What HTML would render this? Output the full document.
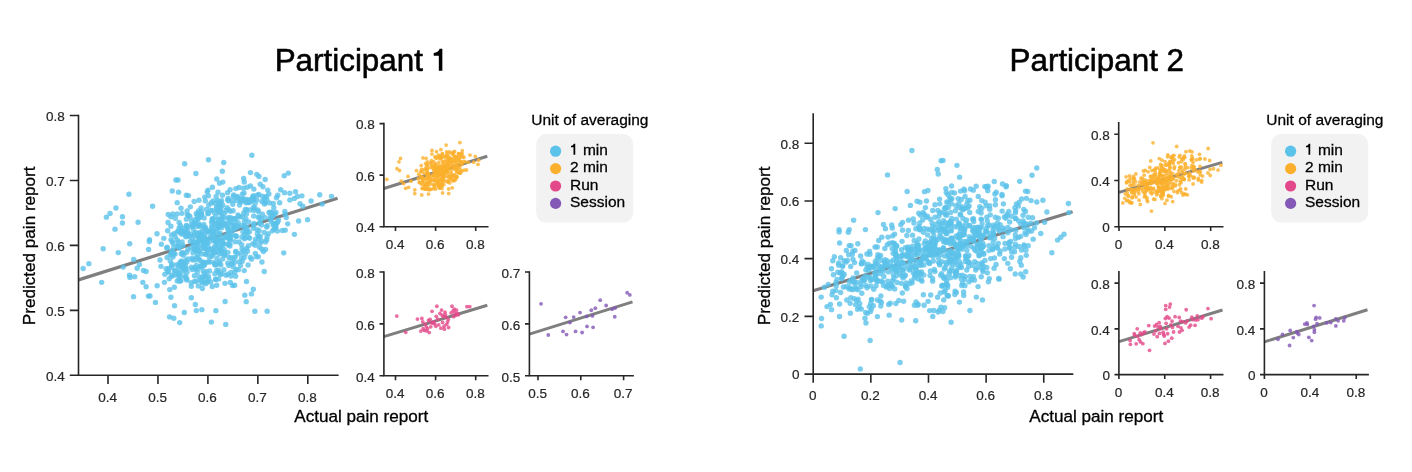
<!DOCTYPE html>
<html><head><meta charset="utf-8"><title>Participants</title>
<style>html,body{margin:0;padding:0;background:#fff}body{width:1412px;height:472px;overflow:hidden}svg{will-change:transform;opacity:.999}</style>
</head><body>
<svg width="1412" height="472" viewBox="0 0 1412 472" style="font-family:'Liberation Sans',sans-serif;display:block">
<rect width="1412" height="472" fill="#fff"/>
<text x="274.65" y="70.8" font-size="31.4" fill="#000" stroke="#000" stroke-width="0.55">Participant</text>
<path d="M442.34 48.82V70.8H438.83V55.79H433.71V53Q438.32 52.75 439.64 48.82Z" fill="#000"/>
<text x="1096.8" y="70.8" text-anchor="middle" font-size="31.4" fill="#000" stroke="#000" stroke-width="0.55">Participant 2</text>
<line x1="78.5" y1="279.9" x2="337.6" y2="198.2" stroke="#7f7f7f" stroke-width="3.2"/>
<g fill="#5bc2ea" fill-opacity="0.8"><circle cx="232" cy="225.35" r="2.7"/><circle cx="220.43" cy="274.49" r="2.7"/><circle cx="185.84" cy="260.31" r="2.7"/><circle cx="232.81" cy="204.31" r="2.7"/><circle cx="235.8" cy="235.83" r="2.7"/><circle cx="174.5" cy="271.08" r="2.7"/><circle cx="271.28" cy="221.87" r="2.7"/><circle cx="215.65" cy="216.38" r="2.7"/><circle cx="244.54" cy="225.24" r="2.7"/><circle cx="275.5" cy="227.28" r="2.7"/><circle cx="215.81" cy="240.04" r="2.7"/><circle cx="180.99" cy="280.5" r="2.7"/><circle cx="201.55" cy="254.01" r="2.7"/><circle cx="223.23" cy="243.4" r="2.7"/><circle cx="186.67" cy="252.27" r="2.7"/><circle cx="224.9" cy="254.98" r="2.7"/><circle cx="199.44" cy="251.2" r="2.7"/><circle cx="249.33" cy="231.87" r="2.7"/><circle cx="173.1" cy="243.62" r="2.7"/><circle cx="239.43" cy="261.76" r="2.7"/><circle cx="258.79" cy="194.35" r="2.7"/><circle cx="213.89" cy="251.93" r="2.7"/><circle cx="210.49" cy="210.34" r="2.7"/><circle cx="172.79" cy="275.13" r="2.7"/><circle cx="197.1" cy="215.66" r="2.7"/><circle cx="197.83" cy="237.12" r="2.7"/><circle cx="252.58" cy="196.73" r="2.7"/><circle cx="189.36" cy="236.18" r="2.7"/><circle cx="222.35" cy="244.32" r="2.7"/><circle cx="178.53" cy="272.9" r="2.7"/><circle cx="202.7" cy="241.56" r="2.7"/><circle cx="200.55" cy="217.08" r="2.7"/><circle cx="192.15" cy="258.18" r="2.7"/><circle cx="228.87" cy="209.61" r="2.7"/><circle cx="191.28" cy="267.23" r="2.7"/><circle cx="259.14" cy="230.69" r="2.7"/><circle cx="219.45" cy="233.92" r="2.7"/><circle cx="174.15" cy="233.61" r="2.7"/><circle cx="237.91" cy="253.92" r="2.7"/><circle cx="260.13" cy="222.34" r="2.7"/><circle cx="173.93" cy="247.5" r="2.7"/><circle cx="227.92" cy="274.18" r="2.7"/><circle cx="259.17" cy="217.63" r="2.7"/><circle cx="181.63" cy="260.91" r="2.7"/><circle cx="196.79" cy="242.44" r="2.7"/><circle cx="278.46" cy="220.29" r="2.7"/><circle cx="243.47" cy="199.27" r="2.7"/><circle cx="218.78" cy="202.01" r="2.7"/><circle cx="171.27" cy="252.87" r="2.7"/><circle cx="185.33" cy="265.1" r="2.7"/><circle cx="229.05" cy="231.16" r="2.7"/><circle cx="234.83" cy="262.3" r="2.7"/><circle cx="183.69" cy="255.25" r="2.7"/><circle cx="204.26" cy="263.55" r="2.7"/><circle cx="193.44" cy="229.35" r="2.7"/><circle cx="180.27" cy="261.85" r="2.7"/><circle cx="222.87" cy="243.46" r="2.7"/><circle cx="204.29" cy="237.96" r="2.7"/><circle cx="237.89" cy="197.5" r="2.7"/><circle cx="242.52" cy="198.9" r="2.7"/><circle cx="235.93" cy="218.85" r="2.7"/><circle cx="261.62" cy="241.04" r="2.7"/><circle cx="226.96" cy="237.55" r="2.7"/><circle cx="222.14" cy="273.67" r="2.7"/><circle cx="211.11" cy="235.19" r="2.7"/><circle cx="249.72" cy="238.27" r="2.7"/><circle cx="203" cy="243.44" r="2.7"/><circle cx="219.14" cy="253.97" r="2.7"/><circle cx="176.61" cy="264.6" r="2.7"/><circle cx="193.01" cy="252.76" r="2.7"/><circle cx="217.36" cy="243.5" r="2.7"/><circle cx="235.1" cy="256.94" r="2.7"/><circle cx="234.39" cy="228.19" r="2.7"/><circle cx="231.85" cy="262.01" r="2.7"/><circle cx="239.55" cy="204.99" r="2.7"/><circle cx="227.65" cy="237.44" r="2.7"/><circle cx="218.44" cy="227.55" r="2.7"/><circle cx="216.56" cy="227.8" r="2.7"/><circle cx="177.86" cy="245.73" r="2.7"/><circle cx="245.15" cy="228.21" r="2.7"/><circle cx="171.63" cy="253.24" r="2.7"/><circle cx="207.96" cy="230.59" r="2.7"/><circle cx="192.49" cy="238.74" r="2.7"/><circle cx="202.04" cy="230.89" r="2.7"/><circle cx="218.82" cy="247.29" r="2.7"/><circle cx="262.35" cy="196.21" r="2.7"/><circle cx="239.98" cy="216.9" r="2.7"/><circle cx="248.68" cy="221.9" r="2.7"/><circle cx="180.02" cy="271.27" r="2.7"/><circle cx="247.35" cy="230.91" r="2.7"/><circle cx="274.15" cy="229.36" r="2.7"/><circle cx="272.02" cy="212.57" r="2.7"/><circle cx="241.6" cy="257.84" r="2.7"/><circle cx="274.55" cy="214.06" r="2.7"/><circle cx="175.09" cy="253.89" r="2.7"/><circle cx="203.49" cy="264.4" r="2.7"/><circle cx="211.7" cy="228.54" r="2.7"/><circle cx="234.07" cy="258.03" r="2.7"/><circle cx="214.47" cy="232.54" r="2.7"/><circle cx="194.06" cy="249" r="2.7"/><circle cx="242.46" cy="216.58" r="2.7"/><circle cx="276.08" cy="224.07" r="2.7"/><circle cx="211.61" cy="256.55" r="2.7"/><circle cx="233.74" cy="194.91" r="2.7"/><circle cx="228.98" cy="257.4" r="2.7"/><circle cx="245.98" cy="202.81" r="2.7"/><circle cx="191.08" cy="282.77" r="2.7"/><circle cx="201.29" cy="211.22" r="2.7"/><circle cx="259.39" cy="223.24" r="2.7"/><circle cx="218.27" cy="223.32" r="2.7"/><circle cx="228.37" cy="244.9" r="2.7"/><circle cx="234.65" cy="272.28" r="2.7"/><circle cx="182.27" cy="232.68" r="2.7"/><circle cx="186.67" cy="278.9" r="2.7"/><circle cx="214.22" cy="262.57" r="2.7"/><circle cx="179.71" cy="231.17" r="2.7"/><circle cx="264.83" cy="197.73" r="2.7"/><circle cx="205.43" cy="241.01" r="2.7"/><circle cx="236.49" cy="236.4" r="2.7"/><circle cx="230.06" cy="229.75" r="2.7"/><circle cx="245.81" cy="199.14" r="2.7"/><circle cx="199.21" cy="232.87" r="2.7"/><circle cx="185.95" cy="276.45" r="2.7"/><circle cx="228.81" cy="265.51" r="2.7"/><circle cx="220.65" cy="248.58" r="2.7"/><circle cx="172.26" cy="241.65" r="2.7"/><circle cx="168.59" cy="268.34" r="2.7"/><circle cx="228.19" cy="218.28" r="2.7"/><circle cx="273.62" cy="223.43" r="2.7"/><circle cx="260.26" cy="242.95" r="2.7"/><circle cx="233.89" cy="227.33" r="2.7"/><circle cx="222.55" cy="244.75" r="2.7"/><circle cx="171.36" cy="276.49" r="2.7"/><circle cx="229.88" cy="245.96" r="2.7"/><circle cx="221.07" cy="221.83" r="2.7"/><circle cx="234.55" cy="228.94" r="2.7"/><circle cx="253.8" cy="223.39" r="2.7"/><circle cx="207.04" cy="281.66" r="2.7"/><circle cx="196.81" cy="250.58" r="2.7"/><circle cx="213.58" cy="233.57" r="2.7"/><circle cx="230.34" cy="236.41" r="2.7"/><circle cx="205.8" cy="283.78" r="2.7"/><circle cx="181.55" cy="262.77" r="2.7"/><circle cx="248.67" cy="237.37" r="2.7"/><circle cx="275.95" cy="212.41" r="2.7"/><circle cx="265.56" cy="249.43" r="2.7"/><circle cx="204.96" cy="234.06" r="2.7"/><circle cx="166.77" cy="247.9" r="2.7"/><circle cx="197.62" cy="219.78" r="2.7"/><circle cx="197.08" cy="243.17" r="2.7"/><circle cx="222.65" cy="259" r="2.7"/><circle cx="219.53" cy="248.83" r="2.7"/><circle cx="167.63" cy="271.48" r="2.7"/><circle cx="194.16" cy="224.01" r="2.7"/><circle cx="178.81" cy="279.56" r="2.7"/><circle cx="208.68" cy="261.64" r="2.7"/><circle cx="238.68" cy="216.16" r="2.7"/><circle cx="204.34" cy="281.6" r="2.7"/><circle cx="193.1" cy="243.48" r="2.7"/><circle cx="187.58" cy="234.5" r="2.7"/><circle cx="246.74" cy="232.42" r="2.7"/><circle cx="244.34" cy="238.76" r="2.7"/><circle cx="258.61" cy="238.32" r="2.7"/><circle cx="213.91" cy="235.35" r="2.7"/><circle cx="229.24" cy="217.52" r="2.7"/><circle cx="246.68" cy="209.77" r="2.7"/><circle cx="203.11" cy="245.62" r="2.7"/><circle cx="266.72" cy="239.71" r="2.7"/><circle cx="248.07" cy="264.97" r="2.7"/><circle cx="271.6" cy="217.96" r="2.7"/><circle cx="200.12" cy="279.87" r="2.7"/><circle cx="206.9" cy="243.42" r="2.7"/><circle cx="207.12" cy="281.92" r="2.7"/><circle cx="256.12" cy="256.67" r="2.7"/><circle cx="275.74" cy="227.52" r="2.7"/><circle cx="245.84" cy="218.72" r="2.7"/><circle cx="264.46" cy="204" r="2.7"/><circle cx="220.75" cy="202.44" r="2.7"/><circle cx="242.24" cy="261.35" r="2.7"/><circle cx="241.19" cy="252.95" r="2.7"/><circle cx="198.58" cy="218.16" r="2.7"/><circle cx="245.35" cy="237.75" r="2.7"/><circle cx="242.3" cy="194.25" r="2.7"/><circle cx="182.88" cy="245.59" r="2.7"/><circle cx="171.59" cy="267.78" r="2.7"/><circle cx="204.42" cy="265.27" r="2.7"/><circle cx="247.42" cy="232.71" r="2.7"/><circle cx="183.34" cy="268.61" r="2.7"/><circle cx="260.29" cy="236.53" r="2.7"/><circle cx="242.12" cy="248.67" r="2.7"/><circle cx="221.05" cy="251.13" r="2.7"/><circle cx="180.5" cy="275.8" r="2.7"/><circle cx="196.5" cy="232.69" r="2.7"/><circle cx="246.21" cy="231.17" r="2.7"/><circle cx="182.43" cy="252.96" r="2.7"/><circle cx="180.58" cy="265.76" r="2.7"/><circle cx="216.61" cy="208.37" r="2.7"/><circle cx="197.48" cy="248.29" r="2.7"/><circle cx="227.82" cy="263.01" r="2.7"/><circle cx="190.34" cy="241.35" r="2.7"/><circle cx="269.55" cy="202.88" r="2.7"/><circle cx="205.8" cy="229.71" r="2.7"/><circle cx="230.47" cy="238.87" r="2.7"/><circle cx="249.85" cy="209.93" r="2.7"/><circle cx="223.94" cy="224.72" r="2.7"/><circle cx="201.62" cy="281.56" r="2.7"/><circle cx="249.11" cy="202.54" r="2.7"/><circle cx="212.35" cy="220.82" r="2.7"/><circle cx="182" cy="234.13" r="2.7"/><circle cx="264.08" cy="201.34" r="2.7"/><circle cx="170.98" cy="239.86" r="2.7"/><circle cx="221.92" cy="253.53" r="2.7"/><circle cx="200.95" cy="239.55" r="2.7"/><circle cx="268.5" cy="233.6" r="2.7"/><circle cx="212.56" cy="210.42" r="2.7"/><circle cx="191.35" cy="247.88" r="2.7"/><circle cx="219.52" cy="226.07" r="2.7"/><circle cx="230.44" cy="235.28" r="2.7"/><circle cx="186.7" cy="225.49" r="2.7"/><circle cx="244.45" cy="221.29" r="2.7"/><circle cx="258.3" cy="256.78" r="2.7"/><circle cx="249.19" cy="199.74" r="2.7"/><circle cx="208.15" cy="213.48" r="2.7"/><circle cx="253.72" cy="216.11" r="2.7"/><circle cx="179.88" cy="281.23" r="2.7"/><circle cx="175.61" cy="270.28" r="2.7"/><circle cx="213.02" cy="254.59" r="2.7"/><circle cx="236.09" cy="227.54" r="2.7"/><circle cx="263.44" cy="251.49" r="2.7"/><circle cx="186.19" cy="268.28" r="2.7"/><circle cx="217.46" cy="251.56" r="2.7"/><circle cx="221.93" cy="221.22" r="2.7"/><circle cx="222.78" cy="240.11" r="2.7"/><circle cx="257.07" cy="229.79" r="2.7"/><circle cx="187.45" cy="232.2" r="2.7"/><circle cx="236.02" cy="269.51" r="2.7"/><circle cx="195.66" cy="243.32" r="2.7"/><circle cx="199.14" cy="237.48" r="2.7"/><circle cx="211.74" cy="226.28" r="2.7"/><circle cx="240.15" cy="199.23" r="2.7"/><circle cx="167.23" cy="247.18" r="2.7"/><circle cx="245.32" cy="209.57" r="2.7"/><circle cx="177.24" cy="239.92" r="2.7"/><circle cx="215.07" cy="264.05" r="2.7"/><circle cx="227.4" cy="226.96" r="2.7"/><circle cx="221.72" cy="227.7" r="2.7"/><circle cx="261.34" cy="218.72" r="2.7"/><circle cx="270.56" cy="215.9" r="2.7"/><circle cx="204.43" cy="245.24" r="2.7"/><circle cx="206.42" cy="271.81" r="2.7"/><circle cx="198.12" cy="268.82" r="2.7"/><circle cx="261.55" cy="225.03" r="2.7"/><circle cx="188.22" cy="258.9" r="2.7"/><circle cx="199.06" cy="259.09" r="2.7"/><circle cx="201.65" cy="213.85" r="2.7"/><circle cx="199.27" cy="225.62" r="2.7"/><circle cx="231.23" cy="257.65" r="2.7"/><circle cx="221.64" cy="240.57" r="2.7"/><circle cx="253.37" cy="207.38" r="2.7"/><circle cx="170.28" cy="254.93" r="2.7"/><circle cx="166.12" cy="268.69" r="2.7"/><circle cx="178.25" cy="274.57" r="2.7"/><circle cx="270.45" cy="219.03" r="2.7"/><circle cx="235.66" cy="251.81" r="2.7"/><circle cx="179.28" cy="248.29" r="2.7"/><circle cx="253.38" cy="228.29" r="2.7"/><circle cx="192.58" cy="259.97" r="2.7"/><circle cx="243.71" cy="212.96" r="2.7"/><circle cx="217.74" cy="210.91" r="2.7"/><circle cx="221.58" cy="200.64" r="2.7"/><circle cx="220.99" cy="212.51" r="2.7"/><circle cx="195.63" cy="223.12" r="2.7"/><circle cx="185.35" cy="269.25" r="2.7"/><circle cx="192.69" cy="226.29" r="2.7"/><circle cx="233.3" cy="196.28" r="2.7"/><circle cx="227.76" cy="200" r="2.7"/><circle cx="181.55" cy="231.08" r="2.7"/><circle cx="219.18" cy="261.78" r="2.7"/><circle cx="255.12" cy="203.41" r="2.7"/><circle cx="245.24" cy="253.99" r="2.7"/><circle cx="170.27" cy="261.03" r="2.7"/><circle cx="257.25" cy="233.74" r="2.7"/><circle cx="220.72" cy="212.04" r="2.7"/><circle cx="200.77" cy="265.92" r="2.7"/><circle cx="266.73" cy="226.99" r="2.7"/><circle cx="258.4" cy="216.93" r="2.7"/><circle cx="184.1" cy="271.54" r="2.7"/><circle cx="185.35" cy="231.95" r="2.7"/><circle cx="227.95" cy="252.37" r="2.7"/><circle cx="215.55" cy="279.23" r="2.7"/><circle cx="227.95" cy="229.29" r="2.7"/><circle cx="195.41" cy="269.01" r="2.7"/><circle cx="218.77" cy="212.77" r="2.7"/><circle cx="210.6" cy="231.49" r="2.7"/><circle cx="240.81" cy="201.5" r="2.7"/><circle cx="201.6" cy="234.38" r="2.7"/><circle cx="199.61" cy="240.59" r="2.7"/><circle cx="226.99" cy="223.36" r="2.7"/><circle cx="196.46" cy="281.19" r="2.7"/><circle cx="244.92" cy="227.06" r="2.7"/><circle cx="248.17" cy="201.93" r="2.7"/><circle cx="227.77" cy="233.95" r="2.7"/><circle cx="204.28" cy="273.57" r="2.7"/><circle cx="224.55" cy="213.34" r="2.7"/><circle cx="240.5" cy="265.43" r="2.7"/><circle cx="244.14" cy="257.85" r="2.7"/><circle cx="168.49" cy="272.13" r="2.7"/><circle cx="214.52" cy="203.13" r="2.7"/><circle cx="218.77" cy="270.49" r="2.7"/><circle cx="247.42" cy="251.31" r="2.7"/><circle cx="218.22" cy="228.11" r="2.7"/><circle cx="222.27" cy="216.61" r="2.7"/><circle cx="217.1" cy="223.63" r="2.7"/><circle cx="205.75" cy="276.46" r="2.7"/><circle cx="209.94" cy="249.76" r="2.7"/><circle cx="252.68" cy="243.83" r="2.7"/><circle cx="241.92" cy="237" r="2.7"/><circle cx="254.62" cy="207.97" r="2.7"/><circle cx="244.61" cy="234.48" r="2.7"/><circle cx="240.64" cy="201.8" r="2.7"/><circle cx="179.01" cy="228.11" r="2.7"/><circle cx="237.99" cy="214.9" r="2.7"/><circle cx="216.32" cy="230.36" r="2.7"/><circle cx="210.57" cy="248.98" r="2.7"/><circle cx="194.62" cy="267.47" r="2.7"/><circle cx="224.28" cy="252.21" r="2.7"/><circle cx="171.92" cy="265.37" r="2.7"/><circle cx="231.92" cy="264.24" r="2.7"/><circle cx="199.12" cy="276.59" r="2.7"/><circle cx="257.74" cy="210.07" r="2.7"/><circle cx="277.38" cy="230.96" r="2.7"/><circle cx="253.68" cy="199.72" r="2.7"/><circle cx="200.28" cy="260.63" r="2.7"/><circle cx="258.52" cy="211.5" r="2.7"/><circle cx="246.4" cy="214.07" r="2.7"/><circle cx="250.31" cy="257.34" r="2.7"/><circle cx="276.69" cy="223.19" r="2.7"/><circle cx="212.71" cy="231.22" r="2.7"/><circle cx="214.43" cy="246.77" r="2.7"/><circle cx="205.41" cy="247.71" r="2.7"/><circle cx="265.4" cy="202.92" r="2.7"/><circle cx="229.26" cy="238.48" r="2.7"/><circle cx="272.38" cy="230.86" r="2.7"/><circle cx="241.72" cy="244.66" r="2.7"/><circle cx="235.56" cy="235.84" r="2.7"/><circle cx="220.5" cy="208.2" r="2.7"/><circle cx="248.17" cy="202.61" r="2.7"/><circle cx="187.13" cy="271.95" r="2.7"/><circle cx="265.2" cy="217.66" r="2.7"/><circle cx="223.93" cy="269.76" r="2.7"/><circle cx="231.86" cy="232.47" r="2.7"/><circle cx="197.23" cy="272.11" r="2.7"/><circle cx="182.12" cy="242" r="2.7"/><circle cx="258.44" cy="236.36" r="2.7"/><circle cx="195.5" cy="259.94" r="2.7"/><circle cx="238.08" cy="222.58" r="2.7"/><circle cx="203.87" cy="224.55" r="2.7"/><circle cx="220" cy="206.19" r="2.7"/><circle cx="222.66" cy="205.01" r="2.7"/><circle cx="247.06" cy="227.4" r="2.7"/><circle cx="238.27" cy="226.73" r="2.7"/><circle cx="253.6" cy="197.78" r="2.7"/><circle cx="230.35" cy="239.84" r="2.7"/><circle cx="171.73" cy="263.93" r="2.7"/><circle cx="253.81" cy="225.47" r="2.7"/><circle cx="213.74" cy="240.78" r="2.7"/><circle cx="246.66" cy="248.38" r="2.7"/><circle cx="213.26" cy="219.41" r="2.7"/><circle cx="275.16" cy="225.9" r="2.7"/><circle cx="255.2" cy="242.15" r="2.7"/><circle cx="265.55" cy="241.9" r="2.7"/><circle cx="216.28" cy="244.64" r="2.7"/><circle cx="203.39" cy="277.07" r="2.7"/><circle cx="226.71" cy="225.71" r="2.7"/><circle cx="253.47" cy="199.35" r="2.7"/><circle cx="196.73" cy="257.16" r="2.7"/><circle cx="198.63" cy="241.12" r="2.7"/><circle cx="206.23" cy="262.56" r="2.7"/><circle cx="270.23" cy="212.16" r="2.7"/><circle cx="255.24" cy="245.33" r="2.7"/><circle cx="179.42" cy="264.28" r="2.7"/><circle cx="210.99" cy="202.9" r="2.7"/><circle cx="206.32" cy="209.45" r="2.7"/><circle cx="253.79" cy="210.6" r="2.7"/><circle cx="208.67" cy="279.3" r="2.7"/><circle cx="186.19" cy="236.12" r="2.7"/><circle cx="173.46" cy="253.91" r="2.7"/><circle cx="186.55" cy="231.83" r="2.7"/><circle cx="193.97" cy="241.65" r="2.7"/><circle cx="214.28" cy="212.78" r="2.7"/><circle cx="204.13" cy="248.64" r="2.7"/><circle cx="210.12" cy="231.6" r="2.7"/><circle cx="234.91" cy="241.78" r="2.7"/><circle cx="241.74" cy="225.39" r="2.7"/><circle cx="186.14" cy="226.02" r="2.7"/><circle cx="218.82" cy="238.73" r="2.7"/><circle cx="229.85" cy="244.22" r="2.7"/><circle cx="207.67" cy="252.88" r="2.7"/><circle cx="202.71" cy="241.83" r="2.7"/><circle cx="219.08" cy="219.55" r="2.7"/><circle cx="191.55" cy="224.72" r="2.7"/><circle cx="194.59" cy="222.65" r="2.7"/><circle cx="203.04" cy="262.51" r="2.7"/><circle cx="242.94" cy="231.86" r="2.7"/><circle cx="198.5" cy="211.04" r="2.7"/><circle cx="209.29" cy="257.04" r="2.7"/><circle cx="222.46" cy="244.06" r="2.7"/><circle cx="182.13" cy="262.59" r="2.7"/><circle cx="182.36" cy="265.81" r="2.7"/><circle cx="227.14" cy="207.82" r="2.7"/><circle cx="207.1" cy="240.36" r="2.7"/><circle cx="173.58" cy="252.93" r="2.7"/><circle cx="178.56" cy="266.63" r="2.7"/><circle cx="201.85" cy="235.7" r="2.7"/><circle cx="203.16" cy="270.89" r="2.7"/><circle cx="202.87" cy="247.91" r="2.7"/><circle cx="208.78" cy="205.18" r="2.7"/><circle cx="207.23" cy="249.74" r="2.7"/><circle cx="215.46" cy="241.58" r="2.7"/><circle cx="220.79" cy="264.9" r="2.7"/><circle cx="182.97" cy="252.88" r="2.7"/><circle cx="205.49" cy="227.34" r="2.7"/><circle cx="200.42" cy="233.14" r="2.7"/><circle cx="198.29" cy="246.38" r="2.7"/><circle cx="205.23" cy="254.19" r="2.7"/><circle cx="218.65" cy="204.95" r="2.7"/><circle cx="220.21" cy="225.93" r="2.7"/><circle cx="195.87" cy="250.77" r="2.7"/><circle cx="186.41" cy="219.15" r="2.7"/><circle cx="216.04" cy="237.6" r="2.7"/><circle cx="206.26" cy="254.09" r="2.7"/><circle cx="192.32" cy="269.51" r="2.7"/><circle cx="222.54" cy="244.46" r="2.7"/><circle cx="199.63" cy="237.34" r="2.7"/><circle cx="194.61" cy="233.51" r="2.7"/><circle cx="187.97" cy="249.45" r="2.7"/><circle cx="172.07" cy="250.5" r="2.7"/><circle cx="224.26" cy="217.74" r="2.7"/><circle cx="214.36" cy="249.01" r="2.7"/><circle cx="221.04" cy="206.87" r="2.7"/><circle cx="212.78" cy="253.09" r="2.7"/><circle cx="234.95" cy="223.65" r="2.7"/><circle cx="219.91" cy="233.32" r="2.7"/><circle cx="180.43" cy="225.5" r="2.7"/><circle cx="224.03" cy="249.35" r="2.7"/><circle cx="211.98" cy="237.84" r="2.7"/><circle cx="202.71" cy="226.54" r="2.7"/><circle cx="214.12" cy="224.61" r="2.7"/><circle cx="199.88" cy="266.34" r="2.7"/><circle cx="204.65" cy="228.27" r="2.7"/><circle cx="207.98" cy="246.82" r="2.7"/><circle cx="222.24" cy="217.04" r="2.7"/><circle cx="201.93" cy="266.87" r="2.7"/><circle cx="216.75" cy="270.15" r="2.7"/><circle cx="206.63" cy="243.07" r="2.7"/><circle cx="227.59" cy="243.94" r="2.7"/><circle cx="198.37" cy="250.86" r="2.7"/><circle cx="224.44" cy="255.08" r="2.7"/><circle cx="222.15" cy="224.83" r="2.7"/><circle cx="187.36" cy="214.86" r="2.7"/><circle cx="182.12" cy="230.67" r="2.7"/><circle cx="217.81" cy="240.21" r="2.7"/><circle cx="209.72" cy="237.77" r="2.7"/><circle cx="235.3" cy="227.73" r="2.7"/><circle cx="204.66" cy="237.83" r="2.7"/><circle cx="204.16" cy="217.97" r="2.7"/><circle cx="225.13" cy="236.3" r="2.7"/><circle cx="199.69" cy="239.33" r="2.7"/><circle cx="231.27" cy="217.91" r="2.7"/><circle cx="198.4" cy="213.58" r="2.7"/><circle cx="233.97" cy="218.98" r="2.7"/><circle cx="199.38" cy="224.22" r="2.7"/><circle cx="230.32" cy="211.34" r="2.7"/><circle cx="212.37" cy="218.73" r="2.7"/><circle cx="177.42" cy="231.65" r="2.7"/><circle cx="186.94" cy="261.94" r="2.7"/><circle cx="186.82" cy="227.92" r="2.7"/><circle cx="201.93" cy="235.05" r="2.7"/><circle cx="233.11" cy="210.7" r="2.7"/><circle cx="184.26" cy="263.36" r="2.7"/><circle cx="180.86" cy="230.95" r="2.7"/><circle cx="218.6" cy="219.35" r="2.7"/><circle cx="207.01" cy="232.03" r="2.7"/><circle cx="203.48" cy="238.16" r="2.7"/><circle cx="209.88" cy="261.98" r="2.7"/><circle cx="177.98" cy="246.29" r="2.7"/><circle cx="230.59" cy="222.66" r="2.7"/><circle cx="222.85" cy="237.94" r="2.7"/><circle cx="199.36" cy="226.09" r="2.7"/><circle cx="213.68" cy="250.51" r="2.7"/><circle cx="188.82" cy="215.57" r="2.7"/><circle cx="224.15" cy="222.98" r="2.7"/><circle cx="197.72" cy="226.28" r="2.7"/><circle cx="194.62" cy="248.1" r="2.7"/><circle cx="234.15" cy="218.66" r="2.7"/><circle cx="182.07" cy="266.68" r="2.7"/><circle cx="196.43" cy="265.44" r="2.7"/><circle cx="196.12" cy="242.41" r="2.7"/><circle cx="225.81" cy="210.44" r="2.7"/><circle cx="234.91" cy="225.53" r="2.7"/><circle cx="215.1" cy="252.64" r="2.7"/><circle cx="203.49" cy="262.29" r="2.7"/><circle cx="194.76" cy="249.65" r="2.7"/><circle cx="179.85" cy="246.45" r="2.7"/><circle cx="216.57" cy="223.13" r="2.7"/><circle cx="172.97" cy="257.07" r="2.7"/><circle cx="214.44" cy="239.97" r="2.7"/><circle cx="239.06" cy="241.97" r="2.7"/><circle cx="180.55" cy="232.98" r="2.7"/><circle cx="211.59" cy="222.24" r="2.7"/><circle cx="209.2" cy="242.03" r="2.7"/><circle cx="229.17" cy="238.97" r="2.7"/><circle cx="209.54" cy="270.93" r="2.7"/><circle cx="217.63" cy="241.04" r="2.7"/><circle cx="181.26" cy="253.96" r="2.7"/><circle cx="191.67" cy="220.95" r="2.7"/><circle cx="237.59" cy="225.88" r="2.7"/><circle cx="215.97" cy="264.89" r="2.7"/><circle cx="216.98" cy="258.35" r="2.7"/><circle cx="204.66" cy="240.87" r="2.7"/><circle cx="219.68" cy="263.47" r="2.7"/><circle cx="197.66" cy="255.19" r="2.7"/><circle cx="178.24" cy="242.12" r="2.7"/><circle cx="208.05" cy="213.48" r="2.7"/><circle cx="212.36" cy="219.47" r="2.7"/><circle cx="235.97" cy="251.53" r="2.7"/><circle cx="201.04" cy="207.87" r="2.7"/><circle cx="196.87" cy="245.01" r="2.7"/><circle cx="229.94" cy="221.14" r="2.7"/><circle cx="188.8" cy="235.41" r="2.7"/><circle cx="216.65" cy="206.82" r="2.7"/><circle cx="173.12" cy="254.48" r="2.7"/><circle cx="214.78" cy="264.63" r="2.7"/><circle cx="219.33" cy="211.16" r="2.7"/><circle cx="201.43" cy="214.64" r="2.7"/><circle cx="184.65" cy="163.74" r="2.7"/><circle cx="195.9" cy="173.47" r="2.7"/><circle cx="175.87" cy="179.95" r="2.7"/><circle cx="172.24" cy="191.02" r="2.7"/><circle cx="178.54" cy="192.16" r="2.7"/><circle cx="186.36" cy="195.21" r="2.7"/><circle cx="188.46" cy="195.6" r="2.7"/><circle cx="128.94" cy="194.26" r="2.7"/><circle cx="177.21" cy="202.66" r="2.7"/><circle cx="152.59" cy="206.28" r="2.7"/><circle cx="115.97" cy="208" r="2.7"/><circle cx="110.05" cy="213.53" r="2.7"/><circle cx="106.43" cy="217.15" r="2.7"/><circle cx="122.45" cy="216.77" r="2.7"/><circle cx="122.45" cy="223.07" r="2.7"/><circle cx="138.1" cy="222.31" r="2.7"/><circle cx="115.01" cy="229.17" r="2.7"/><circle cx="156.98" cy="233.75" r="2.7"/><circle cx="194.18" cy="201.51" r="2.7"/><circle cx="181.02" cy="208.19" r="2.7"/><circle cx="187.13" cy="211.05" r="2.7"/><circle cx="190.37" cy="206.85" r="2.7"/><circle cx="168.24" cy="214.48" r="2.7"/><circle cx="172.82" cy="213.91" r="2.7"/><circle cx="170.91" cy="216.77" r="2.7"/><circle cx="175.3" cy="218.3" r="2.7"/><circle cx="168.05" cy="222.5" r="2.7"/><circle cx="170.91" cy="226.31" r="2.7"/><circle cx="167.67" cy="230.7" r="2.7"/><circle cx="179.11" cy="222.5" r="2.7"/><circle cx="181.97" cy="213.34" r="2.7"/><circle cx="177.21" cy="213.91" r="2.7"/><circle cx="189.99" cy="216.77" r="2.7"/><circle cx="196.28" cy="213.53" r="2.7"/><circle cx="149.54" cy="239.67" r="2.7"/><circle cx="163.85" cy="238.33" r="2.7"/><circle cx="171.48" cy="234.9" r="2.7"/><circle cx="175.3" cy="236.8" r="2.7"/><circle cx="178.54" cy="231.08" r="2.7"/><circle cx="181.97" cy="228.22" r="2.7"/><circle cx="184.84" cy="232.03" r="2.7"/><circle cx="187.7" cy="228.22" r="2.7"/><circle cx="192.47" cy="226.31" r="2.7"/><circle cx="194.76" cy="219.63" r="2.7"/><circle cx="190.56" cy="233.94" r="2.7"/><circle cx="194.38" cy="235.85" r="2.7"/><circle cx="185.79" cy="236.8" r="2.7"/><circle cx="103.18" cy="248.78" r="2.7"/><circle cx="129.7" cy="243.82" r="2.7"/><circle cx="118.25" cy="252.59" r="2.7"/><circle cx="149.35" cy="241.53" r="2.7"/><circle cx="148.59" cy="249.54" r="2.7"/><circle cx="88.87" cy="263.66" r="2.7"/><circle cx="83.15" cy="268.43" r="2.7"/><circle cx="133.71" cy="259.46" r="2.7"/><circle cx="123.21" cy="267.09" r="2.7"/><circle cx="139.43" cy="264.42" r="2.7"/><circle cx="137.14" cy="268.24" r="2.7"/><circle cx="143.44" cy="270.52" r="2.7"/><circle cx="146.11" cy="271.48" r="2.7"/><circle cx="129.51" cy="275.29" r="2.7"/><circle cx="129.89" cy="277.39" r="2.7"/><circle cx="134.66" cy="276.63" r="2.7"/><circle cx="101.66" cy="282.35" r="2.7"/><circle cx="142.86" cy="282.35" r="2.7"/><circle cx="146.11" cy="286.74" r="2.7"/><circle cx="157.17" cy="285.79" r="2.7"/><circle cx="164.42" cy="282.35" r="2.7"/><circle cx="133.52" cy="296.66" r="2.7"/><circle cx="148.4" cy="296.09" r="2.7"/><circle cx="155.46" cy="302.38" r="2.7"/><circle cx="169.76" cy="289.6" r="2.7"/><circle cx="174.34" cy="287.31" r="2.7"/><circle cx="170.91" cy="297.23" r="2.7"/><circle cx="174.53" cy="305.82" r="2.7"/><circle cx="191.32" cy="297.81" r="2.7"/><circle cx="184.26" cy="312.5" r="2.7"/><circle cx="195.33" cy="304.48" r="2.7"/><circle cx="196.28" cy="310.59" r="2.7"/><circle cx="169.57" cy="316.88" r="2.7"/><circle cx="173.77" cy="318.22" r="2.7"/><circle cx="179.69" cy="322.61" r="2.7"/><circle cx="161.37" cy="244.2" r="2.7"/><circle cx="160.03" cy="260.03" r="2.7"/><circle cx="160.99" cy="266.33" r="2.7"/><circle cx="167.09" cy="257.55" r="2.7"/><circle cx="164.8" cy="274.34" r="2.7"/><circle cx="169.19" cy="278.73" r="2.7"/><circle cx="191.32" cy="286.36" r="2.7"/><circle cx="177.21" cy="281.02" r="2.7"/><circle cx="186.74" cy="280.06" r="2.7"/><circle cx="251.84" cy="155.29" r="2.7"/><circle cx="208.5" cy="159.74" r="2.7"/><circle cx="223.75" cy="162.54" r="2.7"/><circle cx="222.35" cy="171.31" r="2.7"/><circle cx="250.44" cy="172.58" r="2.7"/><circle cx="256.79" cy="174.36" r="2.7"/><circle cx="258.95" cy="176.39" r="2.7"/><circle cx="265.18" cy="179.44" r="2.7"/><circle cx="284.24" cy="175.63" r="2.7"/><circle cx="288.31" cy="173.09" r="2.7"/><circle cx="243.7" cy="178.55" r="2.7"/><circle cx="244.21" cy="181.98" r="2.7"/><circle cx="216.76" cy="178.93" r="2.7"/><circle cx="219.56" cy="183.13" r="2.7"/><circle cx="222.86" cy="182.11" r="2.7"/><circle cx="178" cy="179.95" r="2.7"/><circle cx="212.44" cy="187.19" r="2.7"/><circle cx="207.99" cy="190.12" r="2.7"/><circle cx="207.23" cy="192.02" r="2.7"/><circle cx="260.22" cy="184.14" r="2.7"/><circle cx="262.89" cy="186.68" r="2.7"/><circle cx="250.44" cy="185.92" r="2.7"/><circle cx="247.26" cy="187.32" r="2.7"/><circle cx="243.45" cy="188.21" r="2.7"/><circle cx="239" cy="187.57" r="2.7"/><circle cx="235.82" cy="188.59" r="2.7"/><circle cx="230.1" cy="189.73" r="2.7"/><circle cx="227.56" cy="192.66" r="2.7"/><circle cx="253.87" cy="189.1" r="2.7"/><circle cx="267.72" cy="190.12" r="2.7"/><circle cx="268.87" cy="193.93" r="2.7"/><circle cx="280.68" cy="189.73" r="2.7"/><circle cx="284.5" cy="192.66" r="2.7"/><circle cx="289.83" cy="193.29" r="2.7"/><circle cx="295.55" cy="191.77" r="2.7"/><circle cx="297.46" cy="196.47" r="2.7"/><circle cx="301.91" cy="195.83" r="2.7"/><circle cx="294.28" cy="198.38" r="2.7"/><circle cx="289.83" cy="199.9" r="2.7"/><circle cx="311.06" cy="201.04" r="2.7"/><circle cx="319.7" cy="194.82" r="2.7"/><circle cx="331.52" cy="196.34" r="2.7"/><circle cx="322.24" cy="204.09" r="2.7"/><circle cx="277.76" cy="195.2" r="2.7"/><circle cx="276.49" cy="197.74" r="2.7"/><circle cx="266.32" cy="196.47" r="2.7"/><circle cx="257.43" cy="195.2" r="2.7"/><circle cx="253.62" cy="195.58" r="2.7"/><circle cx="244.08" cy="193.04" r="2.7"/><circle cx="237.09" cy="196.47" r="2.7"/><circle cx="222.48" cy="195.2" r="2.7"/><circle cx="218.03" cy="192.28" r="2.7"/><circle cx="216.13" cy="196.47" r="2.7"/><circle cx="208.5" cy="195.83" r="2.7"/><circle cx="204.69" cy="197.1" r="2.7"/><circle cx="198.97" cy="200.28" r="2.7"/><circle cx="212.95" cy="200.92" r="2.7"/><circle cx="217.4" cy="200.54" r="2.7"/><circle cx="228.2" cy="198.38" r="2.7"/><circle cx="228.83" cy="200.92" r="2.7"/><circle cx="232.65" cy="200.54" r="2.7"/><circle cx="236.46" cy="200.54" r="2.7"/><circle cx="244.72" cy="200.92" r="2.7"/><circle cx="248.53" cy="200.54" r="2.7"/><circle cx="251.07" cy="201.55" r="2.7"/><circle cx="256.79" cy="199.9" r="2.7"/><circle cx="261.88" cy="201.55" r="2.7"/><circle cx="266.96" cy="199.65" r="2.7"/><circle cx="273.31" cy="203.46" r="2.7"/><circle cx="279.67" cy="202.82" r="2.7"/><circle cx="300" cy="203.71" r="2.7"/><circle cx="205.32" cy="200.92" r="2.7"/><circle cx="302.79" cy="206.3" r="2.7"/><circle cx="307.55" cy="219.65" r="2.7"/><circle cx="298.59" cy="220.99" r="2.7"/><circle cx="287.71" cy="223.85" r="2.7"/><circle cx="294.39" cy="234.34" r="2.7"/><circle cx="282.37" cy="230.52" r="2.7"/><circle cx="285.23" cy="230.14" r="2.7"/><circle cx="283.71" cy="252.85" r="2.7"/><circle cx="273.21" cy="225.37" r="2.7"/><circle cx="277.6" cy="221.94" r="2.7"/><circle cx="285.23" cy="214.31" r="2.7"/><circle cx="286.19" cy="217.55" r="2.7"/><circle cx="273.21" cy="215.64" r="2.7"/><circle cx="267.11" cy="225.76" r="2.7"/><circle cx="261.96" cy="249.22" r="2.7"/><circle cx="259.48" cy="247.31" r="2.7"/><circle cx="255.28" cy="253.42" r="2.7"/><circle cx="251.47" cy="259.14" r="2.7"/><circle cx="261.96" cy="262" r="2.7"/><circle cx="264.25" cy="271.54" r="2.7"/><circle cx="248.41" cy="245.79" r="2.7"/><circle cx="243.83" cy="250.56" r="2.7"/><circle cx="244.22" cy="270.59" r="2.7"/><circle cx="238.49" cy="269.63" r="2.7"/><circle cx="233.15" cy="266.77" r="2.7"/><circle cx="230.86" cy="272.5" r="2.7"/><circle cx="235.63" cy="276.31" r="2.7"/><circle cx="246.51" cy="281.46" r="2.7"/><circle cx="230.29" cy="282.42" r="2.7"/><circle cx="234.68" cy="285.28" r="2.7"/><circle cx="253.37" cy="289.28" r="2.7"/><circle cx="267.11" cy="236.63" r="2.7"/><circle cx="264.25" cy="232.43" r="2.7"/><circle cx="255.66" cy="239.11" r="2.7"/><circle cx="273.79" cy="207.63" r="2.7"/><circle cx="269.02" cy="212.4" r="2.7"/><circle cx="262.34" cy="214.31" r="2.7"/><circle cx="284.85" cy="211.45" r="2.7"/><circle cx="251.41" cy="293.89" r="2.7"/><circle cx="244.81" cy="295.16" r="2.7"/><circle cx="246.2" cy="301.64" r="2.7"/><circle cx="254.85" cy="311.3" r="2.7"/><circle cx="267.17" cy="311.3" r="2.7"/><circle cx="225.11" cy="301.52" r="2.7"/><circle cx="215.83" cy="310.67" r="2.7"/><circle cx="225.74" cy="324.39" r="2.7"/><circle cx="211.38" cy="322.1" r="2.7"/><circle cx="201.85" cy="309.65" r="2.7"/><circle cx="150" cy="296.05" r="2.7"/><circle cx="184.95" cy="276.99" r="2.7"/><circle cx="194.48" cy="281.44" r="2.7"/><circle cx="198.29" cy="285.89" r="2.7"/><circle cx="202.36" cy="288.43" r="2.7"/><circle cx="202.74" cy="283.34" r="2.7"/><circle cx="202.36" cy="277.24" r="2.7"/><circle cx="210.75" cy="282.07" r="2.7"/><circle cx="212.27" cy="286.52" r="2.7"/><circle cx="216.72" cy="285.25" r="2.7"/><circle cx="216.08" cy="279.53" r="2.7"/><circle cx="218.63" cy="278.9" r="2.7"/><circle cx="224.98" cy="283.34" r="2.7"/><circle cx="232.61" cy="285.5" r="2.7"/><circle cx="226" cy="275.34" r="2.7"/><circle cx="231.08" cy="275.97" r="2.7"/><circle cx="179.23" cy="275.72" r="2.7"/><circle cx="175.42" cy="275.08" r="2.7"/><circle cx="194.48" cy="275.72" r="2.7"/><circle cx="208.46" cy="276.35" r="2.7"/><circle cx="214.81" cy="273.81" r="2.7"/><circle cx="218.63" cy="272.8" r="2.7"/></g>
<path d="M78.5 114.7V376.1M77.7 375.3H338.6" stroke="#262626" stroke-width="1.6" fill="none"/>
<path d="M108 375.3v8.7M157.95 375.3v8.7M207.9 375.3v8.7M257.85 375.3v8.7M307.8 375.3v8.7M78.5 375.3h-8.7M78.5 310.35h-8.7M78.5 245.4h-8.7M78.5 180.45h-8.7M78.5 115.5h-8.7" stroke="#262626" stroke-width="1.6" fill="none"/>
<text x="107.6" y="401.5" text-anchor="middle" font-size="13.5" fill="#262626" stroke="#262626" stroke-width="0.2">0.4</text>
<text x="157.55" y="401.5" text-anchor="middle" font-size="13.5" fill="#262626" stroke="#262626" stroke-width="0.2">0.5</text>
<text x="207.5" y="401.5" text-anchor="middle" font-size="13.5" fill="#262626" stroke="#262626" stroke-width="0.2">0.6</text>
<text x="257.45" y="401.5" text-anchor="middle" font-size="13.5" fill="#262626" stroke="#262626" stroke-width="0.2">0.7</text>
<text x="307.4" y="401.5" text-anchor="middle" font-size="13.5" fill="#262626" stroke="#262626" stroke-width="0.2">0.8</text>
<text x="64.7" y="380.6" text-anchor="end" font-size="13.5" fill="#262626" stroke="#262626" stroke-width="0.2">0.4</text>
<text x="64.7" y="315.65" text-anchor="end" font-size="13.5" fill="#262626" stroke="#262626" stroke-width="0.2">0.5</text>
<text x="64.7" y="250.7" text-anchor="end" font-size="13.5" fill="#262626" stroke="#262626" stroke-width="0.2">0.6</text>
<text x="64.7" y="185.75" text-anchor="end" font-size="13.5" fill="#262626" stroke="#262626" stroke-width="0.2">0.7</text>
<text x="64.7" y="120.8" text-anchor="end" font-size="13.5" fill="#262626" stroke="#262626" stroke-width="0.2">0.8</text>
<line x1="383.9" y1="188.5" x2="487.3" y2="156.3" stroke="#7f7f7f" stroke-width="3.0"/>
<g fill="#fbb02d" fill-opacity="0.8"><circle cx="463.96" cy="157.23" r="1.9"/><circle cx="444.17" cy="170.86" r="1.9"/><circle cx="439.6" cy="156.14" r="1.9"/><circle cx="434.94" cy="185.24" r="1.9"/><circle cx="428.12" cy="167.94" r="1.9"/><circle cx="450.52" cy="177.35" r="1.9"/><circle cx="431.02" cy="180.34" r="1.9"/><circle cx="460.89" cy="163.31" r="1.9"/><circle cx="418.8" cy="174.23" r="1.9"/><circle cx="439.94" cy="180.92" r="1.9"/><circle cx="443.7" cy="170.18" r="1.9"/><circle cx="435.61" cy="181.93" r="1.9"/><circle cx="450.99" cy="161.84" r="1.9"/><circle cx="427.18" cy="171.76" r="1.9"/><circle cx="450.07" cy="168.55" r="1.9"/><circle cx="448.63" cy="174.02" r="1.9"/><circle cx="456.59" cy="165.21" r="1.9"/><circle cx="449.16" cy="179.89" r="1.9"/><circle cx="448.04" cy="152.99" r="1.9"/><circle cx="457.83" cy="157.13" r="1.9"/><circle cx="446.48" cy="155.03" r="1.9"/><circle cx="453.01" cy="165.59" r="1.9"/><circle cx="454.12" cy="180.55" r="1.9"/><circle cx="437.16" cy="158.38" r="1.9"/><circle cx="427.72" cy="173.75" r="1.9"/><circle cx="454.55" cy="161.28" r="1.9"/><circle cx="448.8" cy="158.86" r="1.9"/><circle cx="450.1" cy="162.09" r="1.9"/><circle cx="419.47" cy="182.5" r="1.9"/><circle cx="455.8" cy="160.02" r="1.9"/><circle cx="422.16" cy="178.79" r="1.9"/><circle cx="437.75" cy="177.29" r="1.9"/><circle cx="451.03" cy="178.92" r="1.9"/><circle cx="438.9" cy="187.77" r="1.9"/><circle cx="433.12" cy="188.86" r="1.9"/><circle cx="435.05" cy="156.77" r="1.9"/><circle cx="426.63" cy="174.84" r="1.9"/><circle cx="426.18" cy="169.47" r="1.9"/><circle cx="444.27" cy="176.97" r="1.9"/><circle cx="455.35" cy="161.42" r="1.9"/><circle cx="457.01" cy="170.79" r="1.9"/><circle cx="438.3" cy="156.92" r="1.9"/><circle cx="449.72" cy="182.91" r="1.9"/><circle cx="459.98" cy="169.16" r="1.9"/><circle cx="438.89" cy="184.31" r="1.9"/><circle cx="447.47" cy="164.35" r="1.9"/><circle cx="436.67" cy="171.94" r="1.9"/><circle cx="442.21" cy="185.98" r="1.9"/><circle cx="447.34" cy="164.74" r="1.9"/><circle cx="438.78" cy="162.5" r="1.9"/><circle cx="440.17" cy="172.28" r="1.9"/><circle cx="438.28" cy="167.52" r="1.9"/><circle cx="445.41" cy="168.48" r="1.9"/><circle cx="441.28" cy="169.56" r="1.9"/><circle cx="441.45" cy="171.8" r="1.9"/><circle cx="453.13" cy="179.06" r="1.9"/><circle cx="438.9" cy="166.83" r="1.9"/><circle cx="453.38" cy="168.79" r="1.9"/><circle cx="455.62" cy="179.72" r="1.9"/><circle cx="440.25" cy="172.48" r="1.9"/><circle cx="440.68" cy="158.73" r="1.9"/><circle cx="438.84" cy="174.75" r="1.9"/><circle cx="439.6" cy="171.83" r="1.9"/><circle cx="440.22" cy="156.81" r="1.9"/><circle cx="442.31" cy="154.25" r="1.9"/><circle cx="435.4" cy="157.84" r="1.9"/><circle cx="443.69" cy="179.95" r="1.9"/><circle cx="434.14" cy="185.15" r="1.9"/><circle cx="437.02" cy="173.39" r="1.9"/><circle cx="456.98" cy="176.52" r="1.9"/><circle cx="428.47" cy="182.74" r="1.9"/><circle cx="450.9" cy="175.82" r="1.9"/><circle cx="440.14" cy="188.07" r="1.9"/><circle cx="426.54" cy="181.92" r="1.9"/><circle cx="440.23" cy="170.81" r="1.9"/><circle cx="447.09" cy="170.18" r="1.9"/><circle cx="442.63" cy="171.58" r="1.9"/><circle cx="438.51" cy="169.36" r="1.9"/><circle cx="456.47" cy="164.23" r="1.9"/><circle cx="464.81" cy="161.78" r="1.9"/><circle cx="433.44" cy="175.66" r="1.9"/><circle cx="433.9" cy="169.93" r="1.9"/><circle cx="446.91" cy="156.97" r="1.9"/><circle cx="440.71" cy="184.57" r="1.9"/><circle cx="428.49" cy="173.82" r="1.9"/><circle cx="442.01" cy="170.6" r="1.9"/><circle cx="451.35" cy="173.05" r="1.9"/><circle cx="442.61" cy="184.08" r="1.9"/><circle cx="443.44" cy="173.02" r="1.9"/><circle cx="443.24" cy="176.02" r="1.9"/><circle cx="426.57" cy="178.46" r="1.9"/><circle cx="434.87" cy="167.25" r="1.9"/><circle cx="448.19" cy="165.14" r="1.9"/><circle cx="438.35" cy="155.03" r="1.9"/><circle cx="428.11" cy="174.81" r="1.9"/><circle cx="457.22" cy="168.8" r="1.9"/><circle cx="428.59" cy="173.87" r="1.9"/><circle cx="447.45" cy="171.4" r="1.9"/><circle cx="427.55" cy="186.77" r="1.9"/><circle cx="454.96" cy="160.73" r="1.9"/><circle cx="437.27" cy="184.05" r="1.9"/><circle cx="424.68" cy="189.1" r="1.9"/><circle cx="440.94" cy="169.98" r="1.9"/><circle cx="439.88" cy="174.42" r="1.9"/><circle cx="431.39" cy="160.74" r="1.9"/><circle cx="440.32" cy="171.38" r="1.9"/><circle cx="428.64" cy="176.12" r="1.9"/><circle cx="434.78" cy="170.13" r="1.9"/><circle cx="440.7" cy="173.59" r="1.9"/><circle cx="452.56" cy="163.35" r="1.9"/><circle cx="441.62" cy="167.92" r="1.9"/><circle cx="434.77" cy="170.8" r="1.9"/><circle cx="429.35" cy="177.08" r="1.9"/><circle cx="425.71" cy="185.06" r="1.9"/><circle cx="445.38" cy="171.96" r="1.9"/><circle cx="443.85" cy="167.56" r="1.9"/><circle cx="458.72" cy="161.36" r="1.9"/><circle cx="460.08" cy="166.11" r="1.9"/><circle cx="444.59" cy="156.88" r="1.9"/><circle cx="422.09" cy="177.83" r="1.9"/><circle cx="430.24" cy="176.95" r="1.9"/><circle cx="439.03" cy="186.29" r="1.9"/><circle cx="426.22" cy="177.71" r="1.9"/><circle cx="449.44" cy="151.99" r="1.9"/><circle cx="453.48" cy="152.21" r="1.9"/><circle cx="442.68" cy="177.49" r="1.9"/><circle cx="440.64" cy="181.39" r="1.9"/><circle cx="435.78" cy="164.22" r="1.9"/><circle cx="421.73" cy="169.36" r="1.9"/><circle cx="458.96" cy="172.99" r="1.9"/><circle cx="453.15" cy="166.41" r="1.9"/><circle cx="436.18" cy="174.79" r="1.9"/><circle cx="444.49" cy="170.91" r="1.9"/><circle cx="464.07" cy="161.47" r="1.9"/><circle cx="453.89" cy="175.47" r="1.9"/><circle cx="442.67" cy="177.49" r="1.9"/><circle cx="433.79" cy="161.6" r="1.9"/><circle cx="428.11" cy="174.05" r="1.9"/><circle cx="436.6" cy="171.54" r="1.9"/><circle cx="442.36" cy="153.62" r="1.9"/><circle cx="436.99" cy="171.98" r="1.9"/><circle cx="440.62" cy="184.68" r="1.9"/><circle cx="419.56" cy="182.46" r="1.9"/><circle cx="425.83" cy="183.97" r="1.9"/><circle cx="446.5" cy="151.92" r="1.9"/><circle cx="451.58" cy="176.3" r="1.9"/><circle cx="454.86" cy="167.69" r="1.9"/><circle cx="453.92" cy="158.15" r="1.9"/><circle cx="434.37" cy="172.93" r="1.9"/><circle cx="429.51" cy="180.79" r="1.9"/><circle cx="459.16" cy="159.1" r="1.9"/><circle cx="422.73" cy="179.75" r="1.9"/><circle cx="429.93" cy="189.65" r="1.9"/><circle cx="430.71" cy="162.73" r="1.9"/><circle cx="453.55" cy="154.92" r="1.9"/><circle cx="435.44" cy="168.76" r="1.9"/><circle cx="435.16" cy="165.13" r="1.9"/><circle cx="425.55" cy="163.58" r="1.9"/><circle cx="440.53" cy="171.2" r="1.9"/><circle cx="455.74" cy="156.47" r="1.9"/><circle cx="448.75" cy="156.42" r="1.9"/><circle cx="442.73" cy="169.93" r="1.9"/><circle cx="426.18" cy="167.58" r="1.9"/><circle cx="458.58" cy="153.84" r="1.9"/><circle cx="443.38" cy="166.98" r="1.9"/><circle cx="447.81" cy="182.11" r="1.9"/><circle cx="424.53" cy="169.52" r="1.9"/><circle cx="443.99" cy="164.82" r="1.9"/><circle cx="437.02" cy="169.59" r="1.9"/><circle cx="441.19" cy="180.36" r="1.9"/><circle cx="425.58" cy="178.78" r="1.9"/><circle cx="449.16" cy="166.8" r="1.9"/><circle cx="445.21" cy="169.42" r="1.9"/><circle cx="449.08" cy="159.15" r="1.9"/><circle cx="442.03" cy="157.63" r="1.9"/><circle cx="434.88" cy="163.86" r="1.9"/><circle cx="440.32" cy="179" r="1.9"/><circle cx="456.21" cy="167.26" r="1.9"/><circle cx="441.6" cy="167.84" r="1.9"/><circle cx="441.51" cy="165.76" r="1.9"/><circle cx="424.52" cy="185.04" r="1.9"/><circle cx="445.8" cy="156.4" r="1.9"/><circle cx="456.1" cy="177.22" r="1.9"/><circle cx="436.62" cy="175.63" r="1.9"/><circle cx="437.58" cy="181.74" r="1.9"/><circle cx="440.64" cy="170.78" r="1.9"/><circle cx="425.52" cy="189.07" r="1.9"/><circle cx="429.91" cy="182.36" r="1.9"/><circle cx="450.86" cy="160.31" r="1.9"/><circle cx="435.28" cy="166.91" r="1.9"/><circle cx="427.4" cy="173.27" r="1.9"/><circle cx="461.86" cy="170.98" r="1.9"/><circle cx="434.38" cy="187.53" r="1.9"/><circle cx="446.58" cy="156.69" r="1.9"/><circle cx="427.39" cy="183.74" r="1.9"/><circle cx="459.54" cy="172.71" r="1.9"/><circle cx="427.83" cy="183.52" r="1.9"/><circle cx="450.7" cy="158.52" r="1.9"/><circle cx="427.14" cy="165.13" r="1.9"/><circle cx="442.62" cy="177.71" r="1.9"/><circle cx="443.07" cy="179.99" r="1.9"/><circle cx="450.89" cy="165.52" r="1.9"/><circle cx="443.62" cy="166.67" r="1.9"/><circle cx="433.46" cy="180.09" r="1.9"/><circle cx="451" cy="170.87" r="1.9"/><circle cx="448.49" cy="176.78" r="1.9"/><circle cx="437.95" cy="181.31" r="1.9"/><circle cx="461.43" cy="155.97" r="1.9"/><circle cx="432.8" cy="166.38" r="1.9"/><circle cx="430.79" cy="189.2" r="1.9"/><circle cx="441.86" cy="173.87" r="1.9"/><circle cx="438.29" cy="167.11" r="1.9"/><circle cx="434.04" cy="180.11" r="1.9"/><circle cx="443.69" cy="184.6" r="1.9"/><circle cx="427.39" cy="164.68" r="1.9"/><circle cx="447.15" cy="160.61" r="1.9"/><circle cx="449.68" cy="162.21" r="1.9"/><circle cx="418.32" cy="178.73" r="1.9"/><circle cx="459.29" cy="160.11" r="1.9"/><circle cx="441.63" cy="156.6" r="1.9"/><circle cx="461.86" cy="157.21" r="1.9"/><circle cx="461.31" cy="161.74" r="1.9"/><circle cx="434.25" cy="168.31" r="1.9"/><circle cx="429.14" cy="184.79" r="1.9"/><circle cx="447.22" cy="176.6" r="1.9"/><circle cx="427.06" cy="189.27" r="1.9"/><circle cx="452.77" cy="160.33" r="1.9"/><circle cx="448.59" cy="166.89" r="1.9"/><circle cx="446.96" cy="169.43" r="1.9"/><circle cx="434.2" cy="179.65" r="1.9"/><circle cx="458.6" cy="153.61" r="1.9"/><circle cx="422.95" cy="182.91" r="1.9"/><circle cx="442.81" cy="181.41" r="1.9"/><circle cx="424.95" cy="186.37" r="1.9"/><circle cx="435.08" cy="167.63" r="1.9"/><circle cx="438.96" cy="175.68" r="1.9"/><circle cx="460.67" cy="173.1" r="1.9"/><circle cx="443.2" cy="174.19" r="1.9"/><circle cx="433.55" cy="176.63" r="1.9"/><circle cx="436.53" cy="177.84" r="1.9"/><circle cx="442.06" cy="176.84" r="1.9"/><circle cx="432.62" cy="184.33" r="1.9"/><circle cx="442.84" cy="161.71" r="1.9"/><circle cx="443.54" cy="171.81" r="1.9"/><circle cx="421.78" cy="184.38" r="1.9"/><circle cx="455.24" cy="176.55" r="1.9"/><circle cx="450.17" cy="158.58" r="1.9"/><circle cx="442.78" cy="162.32" r="1.9"/><circle cx="427.96" cy="183.06" r="1.9"/><circle cx="422.43" cy="188.41" r="1.9"/><circle cx="431.04" cy="167.51" r="1.9"/><circle cx="447.1" cy="162.21" r="1.9"/><circle cx="427.11" cy="169.54" r="1.9"/><circle cx="457.12" cy="164.05" r="1.9"/><circle cx="454.62" cy="151.46" r="1.9"/><circle cx="429.69" cy="180.12" r="1.9"/><circle cx="456.26" cy="168.54" r="1.9"/><circle cx="446.44" cy="168.83" r="1.9"/><circle cx="446.66" cy="167.33" r="1.9"/><circle cx="457.48" cy="158.27" r="1.9"/><circle cx="440.17" cy="173.77" r="1.9"/><circle cx="462.29" cy="164.08" r="1.9"/><circle cx="438.62" cy="174.52" r="1.9"/><circle cx="445.68" cy="173.13" r="1.9"/><circle cx="456.88" cy="172.32" r="1.9"/><circle cx="427.32" cy="162.02" r="1.9"/><circle cx="443.77" cy="168.69" r="1.9"/><circle cx="432.75" cy="174.56" r="1.9"/><circle cx="451.88" cy="175.74" r="1.9"/><circle cx="455.36" cy="169.66" r="1.9"/><circle cx="448.2" cy="165.63" r="1.9"/><circle cx="420.44" cy="176.07" r="1.9"/><circle cx="454.69" cy="156.66" r="1.9"/><circle cx="435.56" cy="173.04" r="1.9"/><circle cx="445.73" cy="171.89" r="1.9"/><circle cx="442.68" cy="173.69" r="1.9"/><circle cx="442.14" cy="172.53" r="1.9"/><circle cx="432.76" cy="167.8" r="1.9"/><circle cx="459.59" cy="155.38" r="1.9"/><circle cx="422.23" cy="176.99" r="1.9"/><circle cx="453.47" cy="180.39" r="1.9"/><circle cx="443.5" cy="166.84" r="1.9"/><circle cx="445.82" cy="181.21" r="1.9"/><circle cx="437.94" cy="180.23" r="1.9"/><circle cx="429.49" cy="179.17" r="1.9"/><circle cx="445.23" cy="160.79" r="1.9"/><circle cx="422.02" cy="171.95" r="1.9"/><circle cx="438.43" cy="181.72" r="1.9"/><circle cx="461.64" cy="162.3" r="1.9"/><circle cx="439.04" cy="165.81" r="1.9"/><circle cx="431.18" cy="163.12" r="1.9"/><circle cx="439.61" cy="170.92" r="1.9"/><circle cx="444.15" cy="174.92" r="1.9"/><circle cx="431.37" cy="165.03" r="1.9"/><circle cx="440.64" cy="158.6" r="1.9"/><circle cx="422.73" cy="179.52" r="1.9"/><circle cx="441.88" cy="168.63" r="1.9"/><circle cx="452.39" cy="153.79" r="1.9"/><circle cx="457.94" cy="167.67" r="1.9"/><circle cx="447.39" cy="171.98" r="1.9"/><circle cx="424.5" cy="173.34" r="1.9"/><circle cx="448.53" cy="166.76" r="1.9"/><circle cx="460.94" cy="153.6" r="1.9"/><circle cx="437.84" cy="181.68" r="1.9"/><circle cx="445.06" cy="164.39" r="1.9"/><circle cx="438.26" cy="185.15" r="1.9"/><circle cx="420.85" cy="171.31" r="1.9"/><circle cx="430.33" cy="179.36" r="1.9"/><circle cx="422.91" cy="181.17" r="1.9"/><circle cx="454.57" cy="174.97" r="1.9"/><circle cx="386.81" cy="179.32" r="1.9"/><circle cx="400.54" cy="158.47" r="1.9"/><circle cx="399.02" cy="161.86" r="1.9"/><circle cx="396.98" cy="168.64" r="1.9"/><circle cx="399.53" cy="170.51" r="1.9"/><circle cx="408" cy="176.44" r="1.9"/><circle cx="401.22" cy="181.19" r="1.9"/><circle cx="403.76" cy="183.56" r="1.9"/><circle cx="411.05" cy="181.19" r="1.9"/><circle cx="405.63" cy="188.31" r="1.9"/><circle cx="408.51" cy="187.46" r="1.9"/><circle cx="414.78" cy="189.83" r="1.9"/><circle cx="414.78" cy="193.56" r="1.9"/><circle cx="421.73" cy="194.92" r="1.9"/><circle cx="428.51" cy="194.07" r="1.9"/><circle cx="442.58" cy="192.88" r="1.9"/><circle cx="448.68" cy="193.56" r="1.9"/><circle cx="448.68" cy="188.98" r="1.9"/><circle cx="452.24" cy="187.8" r="1.9"/><circle cx="459.86" cy="142.54" r="1.9"/><circle cx="446.14" cy="145.08" r="1.9"/><circle cx="440.88" cy="149.66" r="1.9"/><circle cx="436.47" cy="151.69" r="1.9"/><circle cx="431.9" cy="150.51" r="1.9"/><circle cx="431.9" cy="154.07" r="1.9"/><circle cx="422.92" cy="157.97" r="1.9"/><circle cx="426.14" cy="158.31" r="1.9"/><circle cx="416.47" cy="170.68" r="1.9"/><circle cx="470.03" cy="155.08" r="1.9"/><circle cx="475.29" cy="156.44" r="1.9"/><circle cx="478.68" cy="160.17" r="1.9"/><circle cx="473.76" cy="162.2" r="1.9"/><circle cx="478" cy="164.41" r="1.9"/><circle cx="468.17" cy="162.2" r="1.9"/><circle cx="466.47" cy="170" r="1.9"/><circle cx="464.1" cy="170.17" r="1.9"/><circle cx="462.24" cy="150.68" r="1.9"/><circle cx="462.24" cy="153.73" r="1.9"/><circle cx="452.07" cy="152.88" r="1.9"/><circle cx="422.24" cy="188.47" r="1.9"/><circle cx="435.63" cy="188.98" r="1.9"/><circle cx="441.9" cy="188.47" r="1.9"/><circle cx="428.85" cy="189.49" r="1.9"/><circle cx="421.22" cy="165.59" r="1.9"/><circle cx="456.81" cy="177.46" r="1.9"/><circle cx="452.92" cy="180.85" r="1.9"/><circle cx="447.66" cy="181.36" r="1.9"/><circle cx="459.86" cy="172.37" r="1.9"/></g>
<path d="M383.9 122.8V227.5M383.1 226.7H488.5" stroke="#262626" stroke-width="1.6" fill="none"/>
<path d="M395.5 226.7v4.4M435.6 226.7v4.4M475.7 226.7v4.4M383.9 226.7h-4.4M383.9 175.15h-4.4M383.9 123.6h-4.4" stroke="#262626" stroke-width="1.6" fill="none"/>
<text x="395.1" y="248.6" text-anchor="middle" font-size="13.5" fill="#262626" stroke="#262626" stroke-width="0.2">0.4</text>
<text x="435.2" y="248.6" text-anchor="middle" font-size="13.5" fill="#262626" stroke="#262626" stroke-width="0.2">0.6</text>
<text x="475.3" y="248.6" text-anchor="middle" font-size="13.5" fill="#262626" stroke="#262626" stroke-width="0.2">0.8</text>
<text x="374.9" y="232.4" text-anchor="end" font-size="13.5" fill="#262626" stroke="#262626" stroke-width="0.2">0.4</text>
<text x="374.9" y="180.85" text-anchor="end" font-size="13.5" fill="#262626" stroke="#262626" stroke-width="0.2">0.6</text>
<text x="374.9" y="129.3" text-anchor="end" font-size="13.5" fill="#262626" stroke="#262626" stroke-width="0.2">0.8</text>
<line x1="383.9" y1="336.65" x2="487.3" y2="305.25" stroke="#7f7f7f" stroke-width="3.0"/>
<g fill="#e3498a" fill-opacity="0.8"><circle cx="396.81" cy="316.06" r="1.9"/><circle cx="405.71" cy="332.33" r="1.9"/><circle cx="417.41" cy="319.11" r="1.9"/><circle cx="421.86" cy="318.47" r="1.9"/><circle cx="420.84" cy="331.06" r="1.9"/><circle cx="422.75" cy="321.78" r="1.9"/><circle cx="423.13" cy="328.77" r="1.9"/><circle cx="424.4" cy="330.42" r="1.9"/><circle cx="425.29" cy="324.07" r="1.9"/><circle cx="426.31" cy="326.86" r="1.9"/><circle cx="426.69" cy="330.93" r="1.9"/><circle cx="427.58" cy="328.77" r="1.9"/><circle cx="428.47" cy="320.51" r="1.9"/><circle cx="429.23" cy="332.58" r="1.9"/><circle cx="430.12" cy="319.49" r="1.9"/><circle cx="430.75" cy="326.86" r="1.9"/><circle cx="431.39" cy="322.8" r="1.9"/><circle cx="432.03" cy="311.36" r="1.9"/><circle cx="432.92" cy="323.31" r="1.9"/><circle cx="433.93" cy="321.78" r="1.9"/><circle cx="434.82" cy="324.07" r="1.9"/><circle cx="435.84" cy="326.23" r="1.9"/><circle cx="436.22" cy="316.31" r="1.9"/><circle cx="436.86" cy="306.27" r="1.9"/><circle cx="437.75" cy="319.24" r="1.9"/><circle cx="438.76" cy="324.96" r="1.9"/><circle cx="439.91" cy="313.52" r="1.9"/><circle cx="440.92" cy="328.14" r="1.9"/><circle cx="441.56" cy="310.08" r="1.9"/><circle cx="442.19" cy="315.17" r="1.9"/><circle cx="442.58" cy="322.42" r="1.9"/><circle cx="443.47" cy="316.69" r="1.9"/><circle cx="444.1" cy="326.23" r="1.9"/><circle cx="444.36" cy="329.15" r="1.9"/><circle cx="444.99" cy="312.25" r="1.9"/><circle cx="445.37" cy="314.79" r="1.9"/><circle cx="446.01" cy="317.08" r="1.9"/><circle cx="446.64" cy="324.32" r="1.9"/><circle cx="447.66" cy="321.78" r="1.9"/><circle cx="448.3" cy="319.24" r="1.9"/><circle cx="448.55" cy="327.5" r="1.9"/><circle cx="451.09" cy="312.88" r="1.9"/><circle cx="451.98" cy="306.27" r="1.9"/><circle cx="453" cy="310.97" r="1.9"/><circle cx="453.64" cy="316.69" r="1.9"/><circle cx="454.27" cy="309.07" r="1.9"/><circle cx="454.91" cy="312.88" r="1.9"/><circle cx="455.54" cy="315.42" r="1.9"/><circle cx="456.56" cy="310.08" r="1.9"/><circle cx="457.45" cy="313.52" r="1.9"/><circle cx="458.34" cy="314.79" r="1.9"/><circle cx="466.98" cy="306.65" r="1.9"/><circle cx="469.78" cy="306.65" r="1.9"/></g>
<path d="M383.9 271.2V376.6M383.1 375.8H488.5" stroke="#262626" stroke-width="1.6" fill="none"/>
<path d="M395.5 375.8v4.4M435.6 375.8v4.4M475.7 375.8v4.4M383.9 375.8h-4.4M383.9 323.9h-4.4M383.9 272h-4.4" stroke="#262626" stroke-width="1.6" fill="none"/>
<text x="395.1" y="397.7" text-anchor="middle" font-size="13.5" fill="#262626" stroke="#262626" stroke-width="0.2">0.4</text>
<text x="435.2" y="397.7" text-anchor="middle" font-size="13.5" fill="#262626" stroke="#262626" stroke-width="0.2">0.6</text>
<text x="475.3" y="397.7" text-anchor="middle" font-size="13.5" fill="#262626" stroke="#262626" stroke-width="0.2">0.8</text>
<text x="374.9" y="381.5" text-anchor="end" font-size="13.5" fill="#262626" stroke="#262626" stroke-width="0.2">0.4</text>
<text x="374.9" y="329.6" text-anchor="end" font-size="13.5" fill="#262626" stroke="#262626" stroke-width="0.2">0.6</text>
<text x="374.9" y="277.7" text-anchor="end" font-size="13.5" fill="#262626" stroke="#262626" stroke-width="0.2">0.8</text>
<line x1="529.4" y1="334.1" x2="632.5" y2="301.9" stroke="#7f7f7f" stroke-width="3.0"/>
<g fill="#8358b6" fill-opacity="0.8"><circle cx="541.05" cy="303.87" r="1.9"/><circle cx="548.31" cy="335" r="1.9"/><circle cx="562.99" cy="331.44" r="1.9"/><circle cx="565.65" cy="317.36" r="1.9"/><circle cx="566.54" cy="334.56" r="1.9"/><circle cx="569.95" cy="322.55" r="1.9"/><circle cx="573.66" cy="317.06" r="1.9"/><circle cx="575.59" cy="331.44" r="1.9"/><circle cx="580.04" cy="312.61" r="1.9"/><circle cx="582.11" cy="332.48" r="1.9"/><circle cx="586.71" cy="316.47" r="1.9"/><circle cx="587" cy="326.4" r="1.9"/><circle cx="591.3" cy="310.24" r="1.9"/><circle cx="592.49" cy="315.88" r="1.9"/><circle cx="593.08" cy="327.29" r="1.9"/><circle cx="595.3" cy="308.17" r="1.9"/><circle cx="600.2" cy="300.16" r="1.9"/><circle cx="606.13" cy="305.5" r="1.9"/><circle cx="612.2" cy="309.2" r="1.9"/><circle cx="615.17" cy="308.02" r="1.9"/><circle cx="614.73" cy="316.77" r="1.9"/><circle cx="627.18" cy="292.75" r="1.9"/><circle cx="629.85" cy="294.97" r="1.9"/></g>
<path d="M529.4 271.2V376.6M528.6 375.8H633.9" stroke="#262626" stroke-width="1.6" fill="none"/>
<path d="M538 375.8v4.4M580.8 375.8v4.4M623.6 375.8v4.4M529.4 375.8h-4.4M529.4 323.9h-4.4M529.4 272h-4.4" stroke="#262626" stroke-width="1.6" fill="none"/>
<text x="537.6" y="397.7" text-anchor="middle" font-size="13.5" fill="#262626" stroke="#262626" stroke-width="0.2">0.5</text>
<text x="580.4" y="397.7" text-anchor="middle" font-size="13.5" fill="#262626" stroke="#262626" stroke-width="0.2">0.6</text>
<text x="623.2" y="397.7" text-anchor="middle" font-size="13.5" fill="#262626" stroke="#262626" stroke-width="0.2">0.7</text>
<text x="520.4" y="381.5" text-anchor="end" font-size="13.5" fill="#262626" stroke="#262626" stroke-width="0.2">0.5</text>
<text x="520.4" y="329.6" text-anchor="end" font-size="13.5" fill="#262626" stroke="#262626" stroke-width="0.2">0.6</text>
<text x="520.4" y="277.7" text-anchor="end" font-size="13.5" fill="#262626" stroke="#262626" stroke-width="0.2">0.7</text>
<line x1="813.2" y1="290.7" x2="1072.6" y2="211.8" stroke="#7f7f7f" stroke-width="3.2"/>
<g fill="#5bc2ea" fill-opacity="0.8"><circle cx="912.53" cy="235.16" r="2.7"/><circle cx="959" cy="222.92" r="2.7"/><circle cx="909.19" cy="257.15" r="2.7"/><circle cx="919.98" cy="250.1" r="2.7"/><circle cx="963.62" cy="233.73" r="2.7"/><circle cx="896.69" cy="271.18" r="2.7"/><circle cx="925.64" cy="248.29" r="2.7"/><circle cx="887.35" cy="244.63" r="2.7"/><circle cx="1015.69" cy="210.67" r="2.7"/><circle cx="983.57" cy="266.37" r="2.7"/><circle cx="1025.71" cy="271.69" r="2.7"/><circle cx="871.31" cy="309.05" r="2.7"/><circle cx="984.76" cy="186.58" r="2.7"/><circle cx="921.36" cy="265.11" r="2.7"/><circle cx="850.84" cy="297.77" r="2.7"/><circle cx="1002" cy="194.51" r="2.7"/><circle cx="914.92" cy="255.06" r="2.7"/><circle cx="1007.82" cy="227.57" r="2.7"/><circle cx="981.47" cy="219.62" r="2.7"/><circle cx="934.01" cy="242.07" r="2.7"/><circle cx="996.3" cy="192.13" r="2.7"/><circle cx="876.88" cy="263.21" r="2.7"/><circle cx="873.76" cy="289.24" r="2.7"/><circle cx="875.29" cy="275.95" r="2.7"/><circle cx="895.2" cy="251.14" r="2.7"/><circle cx="877.19" cy="281.25" r="2.7"/><circle cx="852.92" cy="259.18" r="2.7"/><circle cx="966.7" cy="245.75" r="2.7"/><circle cx="855.19" cy="287.12" r="2.7"/><circle cx="928.07" cy="247.8" r="2.7"/><circle cx="952.22" cy="259.71" r="2.7"/><circle cx="892.29" cy="228.01" r="2.7"/><circle cx="982.92" cy="271.45" r="2.7"/><circle cx="1026.73" cy="224.13" r="2.7"/><circle cx="908.52" cy="220.17" r="2.7"/><circle cx="862.17" cy="261.03" r="2.7"/><circle cx="972.89" cy="230" r="2.7"/><circle cx="1010.96" cy="229.82" r="2.7"/><circle cx="931.4" cy="238.56" r="2.7"/><circle cx="975.31" cy="229.83" r="2.7"/><circle cx="901.87" cy="276.09" r="2.7"/><circle cx="1021.27" cy="265.17" r="2.7"/><circle cx="909.84" cy="262.12" r="2.7"/><circle cx="949.46" cy="262.02" r="2.7"/><circle cx="876.02" cy="274.35" r="2.7"/><circle cx="919.27" cy="265.4" r="2.7"/><circle cx="914.33" cy="278.07" r="2.7"/><circle cx="838.7" cy="262.99" r="2.7"/><circle cx="886.46" cy="287.17" r="2.7"/><circle cx="894.62" cy="234.1" r="2.7"/><circle cx="936.37" cy="253.71" r="2.7"/><circle cx="911.2" cy="281.07" r="2.7"/><circle cx="965.87" cy="256.2" r="2.7"/><circle cx="968.76" cy="240.68" r="2.7"/><circle cx="955.3" cy="277.1" r="2.7"/><circle cx="1020.66" cy="223.85" r="2.7"/><circle cx="919.45" cy="227.8" r="2.7"/><circle cx="949.11" cy="259.23" r="2.7"/><circle cx="993.06" cy="242.42" r="2.7"/><circle cx="958.95" cy="203.43" r="2.7"/><circle cx="948.02" cy="226.17" r="2.7"/><circle cx="987.75" cy="190.65" r="2.7"/><circle cx="854.58" cy="262.59" r="2.7"/><circle cx="945.81" cy="231.61" r="2.7"/><circle cx="892.5" cy="280.76" r="2.7"/><circle cx="980.72" cy="239.13" r="2.7"/><circle cx="946.22" cy="233.78" r="2.7"/><circle cx="902.91" cy="272.08" r="2.7"/><circle cx="944.96" cy="240.9" r="2.7"/><circle cx="896.45" cy="270.86" r="2.7"/><circle cx="919.11" cy="274.84" r="2.7"/><circle cx="935.89" cy="241.18" r="2.7"/><circle cx="961.73" cy="285.56" r="2.7"/><circle cx="860.6" cy="255.98" r="2.7"/><circle cx="883.31" cy="271.17" r="2.7"/><circle cx="921.24" cy="279.58" r="2.7"/><circle cx="902.53" cy="230.16" r="2.7"/><circle cx="889.64" cy="288.5" r="2.7"/><circle cx="978.44" cy="232.59" r="2.7"/><circle cx="856.15" cy="288.81" r="2.7"/><circle cx="969.06" cy="281.82" r="2.7"/><circle cx="875.83" cy="269.77" r="2.7"/><circle cx="958.59" cy="234.69" r="2.7"/><circle cx="918.27" cy="279.07" r="2.7"/><circle cx="903.26" cy="263.46" r="2.7"/><circle cx="977.9" cy="227.16" r="2.7"/><circle cx="931.8" cy="250.54" r="2.7"/><circle cx="1025.89" cy="250.21" r="2.7"/><circle cx="946.41" cy="240.27" r="2.7"/><circle cx="930" cy="250.49" r="2.7"/><circle cx="1015.28" cy="274.03" r="2.7"/><circle cx="904.53" cy="256.04" r="2.7"/><circle cx="878.71" cy="240.5" r="2.7"/><circle cx="914.23" cy="240.57" r="2.7"/><circle cx="912.36" cy="264.96" r="2.7"/><circle cx="868.27" cy="277.25" r="2.7"/><circle cx="878.93" cy="265.75" r="2.7"/><circle cx="948.7" cy="256.54" r="2.7"/><circle cx="841.84" cy="273.1" r="2.7"/><circle cx="941.64" cy="261.58" r="2.7"/><circle cx="955.7" cy="272.91" r="2.7"/><circle cx="849.29" cy="287.36" r="2.7"/><circle cx="858.13" cy="299.18" r="2.7"/><circle cx="1027.72" cy="191.5" r="2.7"/><circle cx="981.34" cy="227.62" r="2.7"/><circle cx="962.74" cy="209.82" r="2.7"/><circle cx="948.5" cy="223.2" r="2.7"/><circle cx="909.26" cy="270.09" r="2.7"/><circle cx="905.57" cy="286.11" r="2.7"/><circle cx="915.99" cy="268.41" r="2.7"/><circle cx="925.1" cy="247.83" r="2.7"/><circle cx="964.41" cy="229.24" r="2.7"/><circle cx="962.47" cy="283.28" r="2.7"/><circle cx="880.63" cy="255.4" r="2.7"/><circle cx="1023.77" cy="227.8" r="2.7"/><circle cx="832.79" cy="260.8" r="2.7"/><circle cx="911.45" cy="249.1" r="2.7"/><circle cx="946.38" cy="231.15" r="2.7"/><circle cx="969.01" cy="225.48" r="2.7"/><circle cx="920.84" cy="274.27" r="2.7"/><circle cx="899.14" cy="266.99" r="2.7"/><circle cx="852.76" cy="289.66" r="2.7"/><circle cx="937.85" cy="230.3" r="2.7"/><circle cx="979.52" cy="255.25" r="2.7"/><circle cx="901.46" cy="249.78" r="2.7"/><circle cx="951.27" cy="230.92" r="2.7"/><circle cx="998.52" cy="229.13" r="2.7"/><circle cx="880.81" cy="305.94" r="2.7"/><circle cx="980.11" cy="246.27" r="2.7"/><circle cx="853.08" cy="277.84" r="2.7"/><circle cx="930.04" cy="275.4" r="2.7"/><circle cx="986.54" cy="186.5" r="2.7"/><circle cx="887.99" cy="237.11" r="2.7"/><circle cx="973.63" cy="238.7" r="2.7"/><circle cx="913.98" cy="222.98" r="2.7"/><circle cx="891.94" cy="270.27" r="2.7"/><circle cx="938.99" cy="221.75" r="2.7"/><circle cx="900.24" cy="259.57" r="2.7"/><circle cx="960.14" cy="234.62" r="2.7"/><circle cx="964.69" cy="279.19" r="2.7"/><circle cx="884.84" cy="248.57" r="2.7"/><circle cx="977.95" cy="228.38" r="2.7"/><circle cx="929.21" cy="249.77" r="2.7"/><circle cx="994.9" cy="193.94" r="2.7"/><circle cx="951.39" cy="270.97" r="2.7"/><circle cx="854.24" cy="281.84" r="2.7"/><circle cx="979.66" cy="227.97" r="2.7"/><circle cx="988.86" cy="245.6" r="2.7"/><circle cx="928.05" cy="301.37" r="2.7"/><circle cx="881.02" cy="260.19" r="2.7"/><circle cx="920.51" cy="261.31" r="2.7"/><circle cx="911.73" cy="258.89" r="2.7"/><circle cx="903.04" cy="254.57" r="2.7"/><circle cx="942.92" cy="228.79" r="2.7"/><circle cx="894.5" cy="243.37" r="2.7"/><circle cx="965.08" cy="196.48" r="2.7"/><circle cx="892.58" cy="235.88" r="2.7"/><circle cx="1027.73" cy="229.33" r="2.7"/><circle cx="1026.41" cy="198.37" r="2.7"/><circle cx="993.31" cy="231.72" r="2.7"/><circle cx="927.64" cy="234.91" r="2.7"/><circle cx="869.88" cy="254.21" r="2.7"/><circle cx="871.68" cy="299.39" r="2.7"/><circle cx="891.36" cy="285.61" r="2.7"/><circle cx="981.25" cy="276.82" r="2.7"/><circle cx="885.24" cy="259.6" r="2.7"/><circle cx="912.19" cy="282.81" r="2.7"/><circle cx="871.34" cy="299.73" r="2.7"/><circle cx="852.35" cy="254.26" r="2.7"/><circle cx="948.43" cy="296.07" r="2.7"/><circle cx="986.58" cy="231.48" r="2.7"/><circle cx="894.74" cy="289.05" r="2.7"/><circle cx="875.55" cy="278.93" r="2.7"/><circle cx="892.5" cy="286.27" r="2.7"/><circle cx="933.36" cy="261.09" r="2.7"/><circle cx="865.33" cy="275.89" r="2.7"/><circle cx="958.13" cy="198.58" r="2.7"/><circle cx="852.83" cy="251.26" r="2.7"/><circle cx="1006.04" cy="186.73" r="2.7"/><circle cx="1021.63" cy="199.07" r="2.7"/><circle cx="1009.62" cy="247.43" r="2.7"/><circle cx="876.07" cy="285.69" r="2.7"/><circle cx="961.32" cy="278.99" r="2.7"/><circle cx="917.35" cy="245.16" r="2.7"/><circle cx="870.5" cy="280.4" r="2.7"/><circle cx="885.04" cy="263.22" r="2.7"/><circle cx="1028.21" cy="245.69" r="2.7"/><circle cx="999.28" cy="230.96" r="2.7"/><circle cx="981.85" cy="253.1" r="2.7"/><circle cx="857.8" cy="243.78" r="2.7"/><circle cx="926.35" cy="249.06" r="2.7"/><circle cx="868.55" cy="270.26" r="2.7"/><circle cx="969.97" cy="276.34" r="2.7"/><circle cx="1015.36" cy="234.66" r="2.7"/><circle cx="854.01" cy="282.67" r="2.7"/><circle cx="965.1" cy="276.47" r="2.7"/><circle cx="997.63" cy="226.16" r="2.7"/><circle cx="846.18" cy="286.69" r="2.7"/><circle cx="975.35" cy="235.5" r="2.7"/><circle cx="996.07" cy="264.42" r="2.7"/><circle cx="875.81" cy="263.89" r="2.7"/><circle cx="944.96" cy="222.75" r="2.7"/><circle cx="896.32" cy="255.37" r="2.7"/><circle cx="1023.18" cy="276.98" r="2.7"/><circle cx="868.28" cy="264.44" r="2.7"/><circle cx="981.56" cy="248.42" r="2.7"/><circle cx="964.29" cy="234.77" r="2.7"/><circle cx="1015.85" cy="230.04" r="2.7"/><circle cx="896.15" cy="256.02" r="2.7"/><circle cx="877.38" cy="258.17" r="2.7"/><circle cx="921.56" cy="272.01" r="2.7"/><circle cx="1023.8" cy="209.49" r="2.7"/><circle cx="979.74" cy="206.76" r="2.7"/><circle cx="982.86" cy="243.36" r="2.7"/><circle cx="924.23" cy="214.41" r="2.7"/><circle cx="982.02" cy="262.63" r="2.7"/><circle cx="913.24" cy="218.93" r="2.7"/><circle cx="883.48" cy="285.46" r="2.7"/><circle cx="889.44" cy="243.18" r="2.7"/><circle cx="849.25" cy="245.61" r="2.7"/><circle cx="923.73" cy="275.02" r="2.7"/><circle cx="1009.05" cy="242.53" r="2.7"/><circle cx="959.19" cy="207.7" r="2.7"/><circle cx="965.92" cy="258.56" r="2.7"/><circle cx="967.56" cy="261.89" r="2.7"/><circle cx="839.49" cy="316.44" r="2.7"/><circle cx="869.59" cy="251.54" r="2.7"/><circle cx="930.91" cy="252.36" r="2.7"/><circle cx="981.68" cy="264.33" r="2.7"/><circle cx="983.69" cy="253.11" r="2.7"/><circle cx="902.31" cy="293.03" r="2.7"/><circle cx="892.58" cy="242.81" r="2.7"/><circle cx="994.09" cy="268.22" r="2.7"/><circle cx="974.67" cy="261.61" r="2.7"/><circle cx="839.56" cy="243.07" r="2.7"/><circle cx="910.01" cy="268.99" r="2.7"/><circle cx="969.08" cy="206.07" r="2.7"/><circle cx="948.22" cy="241.75" r="2.7"/><circle cx="943.34" cy="277.36" r="2.7"/><circle cx="956.82" cy="257.13" r="2.7"/><circle cx="971.26" cy="246.34" r="2.7"/><circle cx="905.3" cy="275.1" r="2.7"/><circle cx="958.45" cy="224.26" r="2.7"/><circle cx="865.86" cy="285.42" r="2.7"/><circle cx="880.09" cy="273.61" r="2.7"/><circle cx="932.66" cy="281.13" r="2.7"/><circle cx="945.42" cy="214.67" r="2.7"/><circle cx="896.33" cy="258.1" r="2.7"/><circle cx="962.68" cy="226.04" r="2.7"/><circle cx="1015.85" cy="218.67" r="2.7"/><circle cx="982.79" cy="269.78" r="2.7"/><circle cx="939.98" cy="250.75" r="2.7"/><circle cx="918.77" cy="213.28" r="2.7"/><circle cx="911.75" cy="252.55" r="2.7"/><circle cx="904.34" cy="268.59" r="2.7"/><circle cx="947.03" cy="233.24" r="2.7"/><circle cx="944.94" cy="229.36" r="2.7"/><circle cx="933.9" cy="235.95" r="2.7"/><circle cx="887.3" cy="285.86" r="2.7"/><circle cx="876.83" cy="279.96" r="2.7"/><circle cx="890.92" cy="284.07" r="2.7"/><circle cx="906.31" cy="282.87" r="2.7"/><circle cx="1024.08" cy="246.21" r="2.7"/><circle cx="975.7" cy="270" r="2.7"/><circle cx="916.84" cy="250.19" r="2.7"/><circle cx="942.62" cy="285.12" r="2.7"/><circle cx="861.83" cy="293.2" r="2.7"/><circle cx="999.7" cy="254.02" r="2.7"/><circle cx="906.9" cy="288.67" r="2.7"/><circle cx="944.43" cy="239.33" r="2.7"/><circle cx="866.94" cy="254.06" r="2.7"/><circle cx="887.7" cy="281.11" r="2.7"/><circle cx="946.55" cy="283.49" r="2.7"/><circle cx="1023.15" cy="221.04" r="2.7"/><circle cx="944.56" cy="256.03" r="2.7"/><circle cx="903.05" cy="277.92" r="2.7"/><circle cx="922" cy="281.15" r="2.7"/><circle cx="925.35" cy="257.91" r="2.7"/><circle cx="950.85" cy="250.82" r="2.7"/><circle cx="984.05" cy="234.89" r="2.7"/><circle cx="870.76" cy="303.38" r="2.7"/><circle cx="980.42" cy="248.1" r="2.7"/><circle cx="896.77" cy="245.82" r="2.7"/><circle cx="861.71" cy="280.84" r="2.7"/><circle cx="892.12" cy="248.5" r="2.7"/><circle cx="917.08" cy="242.93" r="2.7"/><circle cx="916.47" cy="247.8" r="2.7"/><circle cx="921.62" cy="254.52" r="2.7"/><circle cx="875.04" cy="246.94" r="2.7"/><circle cx="905.52" cy="286.78" r="2.7"/><circle cx="895.75" cy="253.16" r="2.7"/><circle cx="992.57" cy="249.61" r="2.7"/><circle cx="902.27" cy="262.91" r="2.7"/><circle cx="1003.64" cy="229.92" r="2.7"/><circle cx="964.18" cy="244.79" r="2.7"/><circle cx="933.36" cy="232.09" r="2.7"/><circle cx="979.31" cy="243.72" r="2.7"/><circle cx="993.62" cy="234.43" r="2.7"/><circle cx="906.84" cy="235.51" r="2.7"/><circle cx="933.14" cy="256.48" r="2.7"/><circle cx="933.52" cy="252.89" r="2.7"/><circle cx="939.04" cy="228.66" r="2.7"/><circle cx="867.04" cy="287.7" r="2.7"/><circle cx="882.86" cy="266.8" r="2.7"/><circle cx="864.09" cy="263.03" r="2.7"/><circle cx="841.59" cy="271.62" r="2.7"/><circle cx="880.09" cy="301.09" r="2.7"/><circle cx="883.82" cy="276.57" r="2.7"/><circle cx="860.9" cy="284.35" r="2.7"/><circle cx="941.71" cy="285.9" r="2.7"/><circle cx="902.05" cy="241.34" r="2.7"/><circle cx="888.81" cy="266.58" r="2.7"/><circle cx="971.49" cy="279.7" r="2.7"/><circle cx="981.74" cy="208.43" r="2.7"/><circle cx="961.99" cy="208.35" r="2.7"/><circle cx="849.09" cy="288.99" r="2.7"/><circle cx="896.42" cy="246.34" r="2.7"/><circle cx="969.28" cy="236.65" r="2.7"/><circle cx="915.06" cy="274.02" r="2.7"/><circle cx="1018.89" cy="246.44" r="2.7"/><circle cx="1026.14" cy="234.57" r="2.7"/><circle cx="893.9" cy="278.44" r="2.7"/><circle cx="976.38" cy="228.73" r="2.7"/><circle cx="999" cy="279.14" r="2.7"/><circle cx="880.86" cy="295.95" r="2.7"/><circle cx="865.91" cy="269.89" r="2.7"/><circle cx="880.66" cy="267.4" r="2.7"/><circle cx="844.1" cy="260.73" r="2.7"/><circle cx="872.24" cy="266.49" r="2.7"/><circle cx="895.6" cy="254.89" r="2.7"/><circle cx="960.78" cy="246.87" r="2.7"/><circle cx="907.99" cy="246.87" r="2.7"/><circle cx="904.83" cy="276.12" r="2.7"/><circle cx="939.76" cy="264.91" r="2.7"/><circle cx="960.43" cy="243.93" r="2.7"/><circle cx="987.39" cy="272.84" r="2.7"/><circle cx="944.31" cy="278.52" r="2.7"/><circle cx="1015.46" cy="218.4" r="2.7"/><circle cx="989.1" cy="233.55" r="2.7"/><circle cx="870.61" cy="286" r="2.7"/><circle cx="994.64" cy="238.53" r="2.7"/><circle cx="924.58" cy="254.93" r="2.7"/><circle cx="911.29" cy="256.71" r="2.7"/><circle cx="919.31" cy="272.34" r="2.7"/><circle cx="932.43" cy="231.03" r="2.7"/><circle cx="953.18" cy="243.79" r="2.7"/><circle cx="969" cy="262.26" r="2.7"/><circle cx="908.75" cy="252.92" r="2.7"/><circle cx="949.49" cy="271.01" r="2.7"/><circle cx="973.56" cy="218.72" r="2.7"/><circle cx="1004.38" cy="216.94" r="2.7"/><circle cx="881.82" cy="237.13" r="2.7"/><circle cx="898.85" cy="300.45" r="2.7"/><circle cx="924.2" cy="228.49" r="2.7"/><circle cx="960.96" cy="240.8" r="2.7"/><circle cx="896.43" cy="269.3" r="2.7"/><circle cx="915.27" cy="275.95" r="2.7"/><circle cx="854.28" cy="298.61" r="2.7"/><circle cx="872.05" cy="266.17" r="2.7"/><circle cx="932.72" cy="226.13" r="2.7"/><circle cx="951.6" cy="259.74" r="2.7"/><circle cx="925.41" cy="207.6" r="2.7"/><circle cx="880.56" cy="270.36" r="2.7"/><circle cx="883.79" cy="267.15" r="2.7"/><circle cx="851.11" cy="280.24" r="2.7"/><circle cx="918.34" cy="250.07" r="2.7"/><circle cx="945.45" cy="212.84" r="2.7"/><circle cx="991.38" cy="236.49" r="2.7"/><circle cx="918.12" cy="304.32" r="2.7"/><circle cx="937.62" cy="297.18" r="2.7"/><circle cx="1016.44" cy="203.97" r="2.7"/><circle cx="997.01" cy="246.68" r="2.7"/><circle cx="965.54" cy="255.85" r="2.7"/><circle cx="960.36" cy="243" r="2.7"/><circle cx="932.58" cy="278.38" r="2.7"/><circle cx="973.66" cy="221.57" r="2.7"/><circle cx="955.57" cy="272.16" r="2.7"/><circle cx="923.71" cy="256.73" r="2.7"/><circle cx="903.21" cy="262.5" r="2.7"/><circle cx="901.39" cy="283.36" r="2.7"/><circle cx="966.5" cy="219.87" r="2.7"/><circle cx="958.5" cy="247.69" r="2.7"/><circle cx="929.8" cy="229.57" r="2.7"/><circle cx="917.32" cy="246.29" r="2.7"/><circle cx="1014.81" cy="247.15" r="2.7"/><circle cx="895.25" cy="248.75" r="2.7"/><circle cx="1024.84" cy="223.81" r="2.7"/><circle cx="929.78" cy="249.01" r="2.7"/><circle cx="919.64" cy="229.7" r="2.7"/><circle cx="945.51" cy="276.87" r="2.7"/><circle cx="1014.57" cy="251.82" r="2.7"/><circle cx="918.89" cy="249.13" r="2.7"/><circle cx="901.18" cy="256.16" r="2.7"/><circle cx="909.25" cy="283.9" r="2.7"/><circle cx="915.86" cy="228.72" r="2.7"/><circle cx="893.06" cy="253.37" r="2.7"/><circle cx="912.52" cy="246.3" r="2.7"/><circle cx="881.35" cy="281.27" r="2.7"/><circle cx="877.26" cy="247.06" r="2.7"/><circle cx="1028.73" cy="231.36" r="2.7"/><circle cx="857.9" cy="289.76" r="2.7"/><circle cx="968.87" cy="255.55" r="2.7"/><circle cx="861.32" cy="309.09" r="2.7"/><circle cx="915.21" cy="266.53" r="2.7"/><circle cx="1007.5" cy="215.83" r="2.7"/><circle cx="928.45" cy="261.79" r="2.7"/><circle cx="924.89" cy="250.55" r="2.7"/><circle cx="836.99" cy="279.35" r="2.7"/><circle cx="950.38" cy="244.08" r="2.7"/><circle cx="959.15" cy="275.45" r="2.7"/><circle cx="893.68" cy="243.69" r="2.7"/><circle cx="865.7" cy="312.39" r="2.7"/><circle cx="943.72" cy="299.9" r="2.7"/><circle cx="966.9" cy="242.01" r="2.7"/><circle cx="967.47" cy="257.27" r="2.7"/><circle cx="921.74" cy="259.52" r="2.7"/><circle cx="980.18" cy="267.55" r="2.7"/><circle cx="956.07" cy="205.7" r="2.7"/><circle cx="958.42" cy="253.88" r="2.7"/><circle cx="1011.65" cy="252.05" r="2.7"/><circle cx="867.19" cy="267.2" r="2.7"/><circle cx="938.88" cy="216.29" r="2.7"/><circle cx="939.64" cy="212.9" r="2.7"/><circle cx="943.65" cy="220.7" r="2.7"/><circle cx="850.69" cy="266.43" r="2.7"/><circle cx="1002.51" cy="183.97" r="2.7"/><circle cx="945.69" cy="207.21" r="2.7"/><circle cx="908.35" cy="230.42" r="2.7"/><circle cx="1020.77" cy="236.35" r="2.7"/><circle cx="937.8" cy="254.04" r="2.7"/><circle cx="981.13" cy="238.54" r="2.7"/><circle cx="920.09" cy="229.6" r="2.7"/><circle cx="1009" cy="243.95" r="2.7"/><circle cx="939.17" cy="249.59" r="2.7"/><circle cx="899.83" cy="268.2" r="2.7"/><circle cx="963.74" cy="295.62" r="2.7"/><circle cx="886.32" cy="263.64" r="2.7"/><circle cx="918.89" cy="238.93" r="2.7"/><circle cx="923.39" cy="294.73" r="2.7"/><circle cx="842.69" cy="265.83" r="2.7"/><circle cx="920.67" cy="260.72" r="2.7"/><circle cx="934.77" cy="245.84" r="2.7"/><circle cx="979.23" cy="231.82" r="2.7"/><circle cx="909.09" cy="249.61" r="2.7"/><circle cx="913.39" cy="272.94" r="2.7"/><circle cx="874.12" cy="266.47" r="2.7"/><circle cx="907.83" cy="248.55" r="2.7"/><circle cx="895.72" cy="254.71" r="2.7"/><circle cx="982.54" cy="236.76" r="2.7"/><circle cx="871.21" cy="267.74" r="2.7"/><circle cx="977.12" cy="246.77" r="2.7"/><circle cx="863.98" cy="280.61" r="2.7"/><circle cx="874.65" cy="273.15" r="2.7"/><circle cx="951.29" cy="252.67" r="2.7"/><circle cx="843.42" cy="287" r="2.7"/><circle cx="857.1" cy="282.47" r="2.7"/><circle cx="935.1" cy="243.81" r="2.7"/><circle cx="915.25" cy="260.62" r="2.7"/><circle cx="875.29" cy="261.36" r="2.7"/><circle cx="957.03" cy="247.66" r="2.7"/><circle cx="972.98" cy="231.27" r="2.7"/><circle cx="943.46" cy="247.74" r="2.7"/><circle cx="907.62" cy="265.53" r="2.7"/><circle cx="926.1" cy="256.69" r="2.7"/><circle cx="902.05" cy="255.26" r="2.7"/><circle cx="973.63" cy="241.18" r="2.7"/><circle cx="905.37" cy="247.63" r="2.7"/><circle cx="878.22" cy="281.03" r="2.7"/><circle cx="929.61" cy="242.68" r="2.7"/><circle cx="989.14" cy="225.01" r="2.7"/><circle cx="897.08" cy="282.5" r="2.7"/><circle cx="951.83" cy="238.96" r="2.7"/><circle cx="910.48" cy="249.19" r="2.7"/><circle cx="861.43" cy="263.91" r="2.7"/><circle cx="868.77" cy="267.04" r="2.7"/><circle cx="955.56" cy="244" r="2.7"/><circle cx="893.52" cy="266.59" r="2.7"/><circle cx="962.79" cy="246.76" r="2.7"/><circle cx="957.05" cy="247.01" r="2.7"/><circle cx="861.45" cy="263.23" r="2.7"/><circle cx="950.15" cy="261.9" r="2.7"/><circle cx="989.47" cy="237.69" r="2.7"/><circle cx="929.04" cy="253.35" r="2.7"/><circle cx="844.18" cy="274.18" r="2.7"/><circle cx="899.82" cy="273.6" r="2.7"/><circle cx="836.2" cy="285.98" r="2.7"/><circle cx="893.71" cy="268.84" r="2.7"/><circle cx="960.4" cy="231.66" r="2.7"/><circle cx="862.64" cy="278.4" r="2.7"/><circle cx="884.49" cy="261.71" r="2.7"/><circle cx="888.25" cy="284.92" r="2.7"/><circle cx="947.4" cy="255.09" r="2.7"/><circle cx="991.25" cy="237.78" r="2.7"/><circle cx="933.59" cy="244.63" r="2.7"/><circle cx="959.48" cy="261.67" r="2.7"/><circle cx="958.57" cy="248.91" r="2.7"/><circle cx="929.87" cy="251.85" r="2.7"/><circle cx="896.4" cy="261.29" r="2.7"/><circle cx="978.99" cy="255.73" r="2.7"/><circle cx="986.5" cy="228.18" r="2.7"/><circle cx="849.38" cy="282.32" r="2.7"/><circle cx="888.39" cy="271.88" r="2.7"/><circle cx="953.15" cy="257.05" r="2.7"/><circle cx="978.38" cy="236.12" r="2.7"/><circle cx="973.16" cy="239.82" r="2.7"/><circle cx="977.58" cy="230.49" r="2.7"/><circle cx="958.75" cy="254.93" r="2.7"/><circle cx="907.39" cy="256.79" r="2.7"/><circle cx="916.05" cy="270.39" r="2.7"/><circle cx="901.28" cy="263.92" r="2.7"/><circle cx="982.7" cy="246.42" r="2.7"/><circle cx="961.15" cy="227.55" r="2.7"/><circle cx="864.53" cy="279.99" r="2.7"/><circle cx="972.68" cy="238.83" r="2.7"/><circle cx="916.66" cy="262.7" r="2.7"/><circle cx="964.53" cy="230.7" r="2.7"/><circle cx="878.81" cy="257.07" r="2.7"/><circle cx="882.69" cy="282.08" r="2.7"/><circle cx="977.77" cy="251.91" r="2.7"/><circle cx="945.96" cy="242.25" r="2.7"/><circle cx="978.18" cy="244.47" r="2.7"/><circle cx="910.36" cy="260.3" r="2.7"/><circle cx="832.78" cy="291.28" r="2.7"/><circle cx="917.17" cy="254.77" r="2.7"/><circle cx="992.98" cy="228.91" r="2.7"/><circle cx="896.68" cy="275.57" r="2.7"/><circle cx="886.44" cy="265.14" r="2.7"/><circle cx="923.87" cy="264.96" r="2.7"/><circle cx="924.41" cy="243.39" r="2.7"/><circle cx="982.58" cy="235.93" r="2.7"/><circle cx="893.22" cy="259.85" r="2.7"/><circle cx="953.43" cy="241.72" r="2.7"/><circle cx="931.44" cy="245.86" r="2.7"/><circle cx="989" cy="250.6" r="2.7"/><circle cx="952.53" cy="253.61" r="2.7"/><circle cx="937.03" cy="250.26" r="2.7"/><circle cx="918.86" cy="272.53" r="2.7"/><circle cx="917.08" cy="249.67" r="2.7"/><circle cx="930.99" cy="242.21" r="2.7"/><circle cx="950.94" cy="238.16" r="2.7"/><circle cx="929.37" cy="254.22" r="2.7"/><circle cx="960.83" cy="235.6" r="2.7"/><circle cx="965.36" cy="261.51" r="2.7"/><circle cx="941.79" cy="237.83" r="2.7"/><circle cx="871.92" cy="279.42" r="2.7"/><circle cx="979.33" cy="233.92" r="2.7"/><circle cx="846.06" cy="261.94" r="2.7"/><circle cx="916.59" cy="252.6" r="2.7"/><circle cx="907.42" cy="255.22" r="2.7"/><circle cx="912.1" cy="267.52" r="2.7"/><circle cx="856.69" cy="272.97" r="2.7"/><circle cx="934.59" cy="247.74" r="2.7"/><circle cx="957.47" cy="251.6" r="2.7"/><circle cx="928.31" cy="243.45" r="2.7"/><circle cx="896.15" cy="264.43" r="2.7"/><circle cx="975.28" cy="250.55" r="2.7"/><circle cx="851.29" cy="289.02" r="2.7"/><circle cx="985.48" cy="231.41" r="2.7"/><circle cx="890.79" cy="262.31" r="2.7"/><circle cx="891.28" cy="266.44" r="2.7"/><circle cx="956.56" cy="256.4" r="2.7"/><circle cx="943.54" cy="249.81" r="2.7"/><circle cx="981.91" cy="245.4" r="2.7"/><circle cx="887.38" cy="260.89" r="2.7"/><circle cx="842.74" cy="276.15" r="2.7"/><circle cx="875.56" cy="275.89" r="2.7"/><circle cx="960.06" cy="248.09" r="2.7"/><circle cx="836.4" cy="297.73" r="2.7"/><circle cx="918.68" cy="249" r="2.7"/><circle cx="973.32" cy="227.47" r="2.7"/><circle cx="861" cy="286.85" r="2.7"/><circle cx="933.71" cy="238.98" r="2.7"/><circle cx="961.96" cy="249.16" r="2.7"/><circle cx="980.7" cy="249.1" r="2.7"/><circle cx="974.01" cy="248.62" r="2.7"/><circle cx="955.9" cy="236.14" r="2.7"/><circle cx="993.5" cy="225.23" r="2.7"/><circle cx="955.85" cy="245.38" r="2.7"/><circle cx="993.26" cy="233.21" r="2.7"/><circle cx="957.69" cy="246.62" r="2.7"/><circle cx="950.75" cy="230.37" r="2.7"/><circle cx="948.01" cy="251.53" r="2.7"/><circle cx="983.49" cy="246.21" r="2.7"/><circle cx="928.93" cy="263.02" r="2.7"/><circle cx="977.3" cy="231.21" r="2.7"/><circle cx="983.65" cy="254.35" r="2.7"/><circle cx="902.5" cy="269.64" r="2.7"/><circle cx="898.52" cy="263.12" r="2.7"/><circle cx="907.86" cy="251.73" r="2.7"/><circle cx="938.77" cy="239.18" r="2.7"/><circle cx="940.51" cy="254.55" r="2.7"/><circle cx="943.59" cy="241.77" r="2.7"/><circle cx="934.93" cy="249.55" r="2.7"/><circle cx="977.26" cy="244.66" r="2.7"/><circle cx="880.69" cy="269.74" r="2.7"/><circle cx="966.91" cy="250.52" r="2.7"/><circle cx="970.55" cy="238.4" r="2.7"/><circle cx="841.82" cy="278.02" r="2.7"/><circle cx="840.14" cy="273.08" r="2.7"/><circle cx="877.85" cy="254.77" r="2.7"/><circle cx="993.6" cy="246.6" r="2.7"/><circle cx="955.88" cy="258.93" r="2.7"/><circle cx="930.59" cy="255.05" r="2.7"/><circle cx="987.32" cy="221.12" r="2.7"/><circle cx="957.92" cy="238.01" r="2.7"/><circle cx="926.13" cy="259.55" r="2.7"/><circle cx="893.38" cy="274.9" r="2.7"/><circle cx="979.43" cy="237.04" r="2.7"/><circle cx="924.67" cy="249.47" r="2.7"/><circle cx="870.04" cy="277.22" r="2.7"/><circle cx="929.72" cy="247.51" r="2.7"/><circle cx="964.58" cy="190.77" r="2.7"/><circle cx="957.85" cy="226.99" r="2.7"/><circle cx="961.95" cy="235.07" r="2.7"/><circle cx="945.84" cy="262.41" r="2.7"/><circle cx="939.9" cy="250.37" r="2.7"/><circle cx="945.08" cy="290.82" r="2.7"/><circle cx="951.86" cy="198.6" r="2.7"/><circle cx="952.26" cy="253.45" r="2.7"/><circle cx="947.42" cy="287.39" r="2.7"/><circle cx="961.31" cy="199.53" r="2.7"/><circle cx="965.07" cy="227.92" r="2.7"/><circle cx="940.4" cy="232.63" r="2.7"/><circle cx="944.29" cy="269.09" r="2.7"/><circle cx="929.33" cy="245.81" r="2.7"/><circle cx="935.49" cy="239.69" r="2.7"/><circle cx="938.61" cy="262.47" r="2.7"/><circle cx="955.35" cy="210.71" r="2.7"/><circle cx="947.79" cy="194.47" r="2.7"/><circle cx="946.66" cy="264.31" r="2.7"/><circle cx="951.69" cy="218.56" r="2.7"/><circle cx="950.13" cy="221.51" r="2.7"/><circle cx="952.04" cy="238.24" r="2.7"/><circle cx="934.34" cy="269.4" r="2.7"/><circle cx="955.64" cy="264.56" r="2.7"/><circle cx="949.19" cy="273.88" r="2.7"/><circle cx="958.73" cy="256.55" r="2.7"/><circle cx="961.53" cy="267.45" r="2.7"/><circle cx="939.63" cy="263.69" r="2.7"/><circle cx="959.29" cy="236.81" r="2.7"/><circle cx="918.88" cy="245.45" r="2.7"/><circle cx="926.11" cy="217.28" r="2.7"/><circle cx="968.91" cy="262.36" r="2.7"/><circle cx="941.66" cy="273.74" r="2.7"/><circle cx="950.83" cy="199.38" r="2.7"/><circle cx="940.74" cy="275.29" r="2.7"/><circle cx="939.84" cy="236.31" r="2.7"/><circle cx="943.27" cy="248.55" r="2.7"/><circle cx="945.97" cy="284.96" r="2.7"/><circle cx="975.26" cy="230.9" r="2.7"/><circle cx="925.29" cy="241.06" r="2.7"/><circle cx="947.75" cy="295.47" r="2.7"/><circle cx="956.09" cy="246.37" r="2.7"/><circle cx="985.1" cy="202.25" r="2.7"/><circle cx="930.66" cy="295" r="2.7"/><circle cx="955.9" cy="245.64" r="2.7"/><circle cx="929.66" cy="263.56" r="2.7"/><circle cx="951" cy="225.62" r="2.7"/><circle cx="948.25" cy="202.34" r="2.7"/><circle cx="962.29" cy="206.86" r="2.7"/><circle cx="960.23" cy="214.23" r="2.7"/><circle cx="932.99" cy="244.77" r="2.7"/><circle cx="935" cy="271.6" r="2.7"/><circle cx="934.05" cy="254.66" r="2.7"/><circle cx="956.64" cy="270.5" r="2.7"/><circle cx="959.26" cy="237.16" r="2.7"/><circle cx="974.31" cy="235.18" r="2.7"/><circle cx="938.6" cy="258.1" r="2.7"/><circle cx="973.27" cy="190.14" r="2.7"/><circle cx="940.25" cy="292.94" r="2.7"/><circle cx="948.44" cy="207.31" r="2.7"/><circle cx="955.47" cy="262.07" r="2.7"/><circle cx="944.47" cy="208.37" r="2.7"/><circle cx="942.63" cy="229.37" r="2.7"/><circle cx="965.64" cy="208.3" r="2.7"/><circle cx="920.62" cy="263" r="2.7"/><circle cx="942.45" cy="285.95" r="2.7"/><circle cx="911.53" cy="250.11" r="2.7"/><circle cx="959.81" cy="235.17" r="2.7"/><circle cx="950.24" cy="223.8" r="2.7"/><circle cx="969.91" cy="200.25" r="2.7"/><circle cx="946.44" cy="242.38" r="2.7"/><circle cx="945.08" cy="267.38" r="2.7"/><circle cx="944.17" cy="250.14" r="2.7"/><circle cx="953.92" cy="252.72" r="2.7"/><circle cx="960.55" cy="214.89" r="2.7"/><circle cx="970.42" cy="189.03" r="2.7"/><circle cx="923.37" cy="232.36" r="2.7"/><circle cx="930.4" cy="270.89" r="2.7"/><circle cx="955.56" cy="275.21" r="2.7"/><circle cx="960.82" cy="264.36" r="2.7"/><circle cx="990.29" cy="214.86" r="2.7"/><circle cx="948" cy="240.15" r="2.7"/><circle cx="965.19" cy="241.57" r="2.7"/><circle cx="941.52" cy="223.81" r="2.7"/><circle cx="949.91" cy="222.91" r="2.7"/><circle cx="959.97" cy="266.8" r="2.7"/><circle cx="951.83" cy="267.81" r="2.7"/><circle cx="955.04" cy="291.29" r="2.7"/><circle cx="943.85" cy="231.2" r="2.7"/><circle cx="911.93" cy="150.48" r="2.7"/><circle cx="941.09" cy="160.78" r="2.7"/><circle cx="937.28" cy="169.55" r="2.7"/><circle cx="938.23" cy="173.93" r="2.7"/><circle cx="887.53" cy="174.88" r="2.7"/><circle cx="907.16" cy="191.47" r="2.7"/><circle cx="924.51" cy="191.66" r="2.7"/><circle cx="927.94" cy="190.51" r="2.7"/><circle cx="917.08" cy="201.19" r="2.7"/><circle cx="919.94" cy="202.14" r="2.7"/><circle cx="926.42" cy="201" r="2.7"/><circle cx="910.4" cy="205.38" r="2.7"/><circle cx="895.16" cy="208.62" r="2.7"/><circle cx="878" cy="212.62" r="2.7"/><circle cx="853.6" cy="220.25" r="2.7"/><circle cx="883.53" cy="224.44" r="2.7"/><circle cx="891.72" cy="225.01" r="2.7"/><circle cx="902.59" cy="222.35" r="2.7"/><circle cx="900.87" cy="224.82" r="2.7"/><circle cx="885.43" cy="228.64" r="2.7"/><circle cx="865.42" cy="229.59" r="2.7"/><circle cx="849.22" cy="229.59" r="2.7"/><circle cx="839.11" cy="229.59" r="2.7"/><circle cx="939.57" cy="199.09" r="2.7"/><circle cx="934.99" cy="204.81" r="2.7"/><circle cx="939.76" cy="203.86" r="2.7"/><circle cx="932.71" cy="210.53" r="2.7"/><circle cx="937.85" cy="210.53" r="2.7"/><circle cx="923.18" cy="212.43" r="2.7"/><circle cx="920.7" cy="215.29" r="2.7"/><circle cx="927.37" cy="216.25" r="2.7"/><circle cx="922.6" cy="220.06" r="2.7"/><circle cx="919.74" cy="222.92" r="2.7"/><circle cx="930.23" cy="219.11" r="2.7"/><circle cx="934.99" cy="217.2" r="2.7"/><circle cx="932.13" cy="222.92" r="2.7"/><circle cx="936.9" cy="223.87" r="2.7"/><circle cx="918.79" cy="226.73" r="2.7"/><circle cx="927.37" cy="229.21" r="2.7"/><circle cx="934.99" cy="227.68" r="2.7"/><circle cx="940.71" cy="225.78" r="2.7"/><circle cx="941.67" cy="212.43" r="2.7"/><circle cx="956.91" cy="165.35" r="2.7"/><circle cx="1036.78" cy="168.02" r="2.7"/><circle cx="1032.02" cy="175.26" r="2.7"/><circle cx="959.58" cy="177.17" r="2.7"/><circle cx="1019.63" cy="181.36" r="2.7"/><circle cx="994.28" cy="181.55" r="2.7"/><circle cx="988.18" cy="186.32" r="2.7"/><circle cx="987.22" cy="187.65" r="2.7"/><circle cx="976.17" cy="186.32" r="2.7"/><circle cx="1006.28" cy="185.75" r="2.7"/><circle cx="951.58" cy="185.94" r="2.7"/><circle cx="945.86" cy="188.61" r="2.7"/><circle cx="963.97" cy="189.18" r="2.7"/><circle cx="960.54" cy="191.09" r="2.7"/><circle cx="1025.54" cy="191.09" r="2.7"/><circle cx="954.44" cy="192.99" r="2.7"/><circle cx="951.58" cy="192.42" r="2.7"/><circle cx="946.24" cy="192.42" r="2.7"/><circle cx="1002.09" cy="195.85" r="2.7"/><circle cx="978.26" cy="196.42" r="2.7"/><circle cx="949.67" cy="197.57" r="2.7"/><circle cx="981.7" cy="200.62" r="2.7"/><circle cx="995.42" cy="199.66" r="2.7"/><circle cx="967.78" cy="200.62" r="2.7"/><circle cx="966.83" cy="203.86" r="2.7"/><circle cx="946.81" cy="201.95" r="2.7"/><circle cx="951.58" cy="203.86" r="2.7"/><circle cx="1031.06" cy="200.62" r="2.7"/><circle cx="1036.78" cy="201.95" r="2.7"/><circle cx="1042.88" cy="200.23" r="2.7"/><circle cx="1019.25" cy="202.14" r="2.7"/><circle cx="1068.43" cy="203.48" r="2.7"/><circle cx="1003.43" cy="203.86" r="2.7"/><circle cx="995.42" cy="204.81" r="2.7"/><circle cx="989.7" cy="205.76" r="2.7"/><circle cx="986.27" cy="205.76" r="2.7"/><circle cx="1018.29" cy="206.14" r="2.7"/><circle cx="1014.86" cy="207.67" r="2.7"/><circle cx="967.78" cy="207.67" r="2.7"/><circle cx="963.59" cy="209" r="2.7"/><circle cx="989.7" cy="209.19" r="2.7"/><circle cx="969.69" cy="212.43" r="2.7"/><circle cx="978.26" cy="211.48" r="2.7"/><circle cx="981.12" cy="213.01" r="2.7"/><circle cx="1002.09" cy="211.1" r="2.7"/><circle cx="1008.76" cy="211.48" r="2.7"/><circle cx="1006.86" cy="214.34" r="2.7"/><circle cx="1015.43" cy="213.01" r="2.7"/><circle cx="1025.54" cy="211.48" r="2.7"/><circle cx="1023.06" cy="215.29" r="2.7"/><circle cx="1046.89" cy="212.05" r="2.7"/><circle cx="1068.81" cy="212.62" r="2.7"/><circle cx="1028.4" cy="217.2" r="2.7"/><circle cx="1032.59" cy="217.77" r="2.7"/><circle cx="986.84" cy="217.2" r="2.7"/><circle cx="972.55" cy="219.11" r="2.7"/><circle cx="995.42" cy="217.2" r="2.7"/><circle cx="998.28" cy="218.15" r="2.7"/><circle cx="981.12" cy="219.11" r="2.7"/><circle cx="963.01" cy="218.53" r="2.7"/><circle cx="956.34" cy="219.11" r="2.7"/><circle cx="951.58" cy="221.96" r="2.7"/><circle cx="950.62" cy="212.43" r="2.7"/><circle cx="946.81" cy="215.29" r="2.7"/><circle cx="945.86" cy="208.62" r="2.7"/><circle cx="1005.9" cy="218.15" r="2.7"/><circle cx="1009.72" cy="221.96" r="2.7"/><circle cx="1011.62" cy="216.25" r="2.7"/><circle cx="1018.67" cy="221.01" r="2.7"/><circle cx="1024.01" cy="223.3" r="2.7"/><circle cx="1030.68" cy="223.3" r="2.7"/><circle cx="1036.4" cy="222.92" r="2.7"/><circle cx="1044.6" cy="222.35" r="2.7"/><circle cx="997.33" cy="222.92" r="2.7"/><circle cx="1000.18" cy="224.82" r="2.7"/><circle cx="994.47" cy="226.73" r="2.7"/><circle cx="982.08" cy="223.87" r="2.7"/><circle cx="987.79" cy="225.78" r="2.7"/><circle cx="1003.04" cy="228.06" r="2.7"/><circle cx="965.87" cy="222.92" r="2.7"/><circle cx="959.2" cy="223.87" r="2.7"/><circle cx="969.69" cy="225.78" r="2.7"/><circle cx="976.36" cy="227.68" r="2.7"/><circle cx="954.44" cy="226.73" r="2.7"/><circle cx="946.81" cy="225.78" r="2.7"/><circle cx="961.11" cy="228.64" r="2.7"/><circle cx="1034.5" cy="227.68" r="2.7"/><circle cx="943" cy="160.4" r="2.7"/><circle cx="821.53" cy="318.51" r="2.7"/><circle cx="821.21" cy="325.92" r="2.7"/><circle cx="844.07" cy="336.22" r="2.7"/><circle cx="870.14" cy="340.56" r="2.7"/><circle cx="860.32" cy="368.89" r="2.7"/><circle cx="900.08" cy="362.45" r="2.7"/><circle cx="827" cy="306.6" r="2.7"/><circle cx="830.38" cy="304.51" r="2.7"/><circle cx="831.51" cy="309.66" r="2.7"/><circle cx="839.56" cy="304.02" r="2.7"/><circle cx="850.18" cy="303.22" r="2.7"/><circle cx="850.34" cy="313.2" r="2.7"/><circle cx="855.66" cy="304.83" r="2.7"/><circle cx="859.68" cy="303.54" r="2.7"/><circle cx="859.36" cy="307.24" r="2.7"/><circle cx="857.59" cy="309.34" r="2.7"/><circle cx="869.34" cy="306.76" r="2.7"/><circle cx="873.36" cy="305.63" r="2.7"/><circle cx="870.46" cy="311.59" r="2.7"/><circle cx="867.41" cy="313.36" r="2.7"/><circle cx="864.99" cy="318.19" r="2.7"/><circle cx="865.96" cy="323.02" r="2.7"/><circle cx="877.39" cy="316.58" r="2.7"/><circle cx="889.14" cy="315.13" r="2.7"/><circle cx="888.65" cy="304.51" r="2.7"/><circle cx="890.26" cy="303.22" r="2.7"/><circle cx="895.9" cy="303.54" r="2.7"/><circle cx="881.41" cy="302.41" r="2.7"/><circle cx="903.62" cy="301.29" r="2.7"/><circle cx="901.69" cy="319.96" r="2.7"/><circle cx="915.7" cy="320.76" r="2.7"/><circle cx="914.41" cy="305.31" r="2.7"/><circle cx="917.63" cy="305.31" r="2.7"/><circle cx="916.02" cy="301.93" r="2.7"/><circle cx="924.07" cy="305.31" r="2.7"/><circle cx="929.7" cy="310.62" r="2.7"/><circle cx="933.72" cy="310.46" r="2.7"/><circle cx="932.76" cy="316.42" r="2.7"/><circle cx="938.07" cy="312.07" r="2.7"/><circle cx="939.36" cy="310.14" r="2.7"/><circle cx="940.97" cy="307.24" r="2.7"/><circle cx="942.9" cy="311.59" r="2.7"/><circle cx="944.67" cy="307.73" r="2.7"/><circle cx="951.11" cy="322.21" r="2.7"/><circle cx="959.48" cy="302.09" r="2.7"/><circle cx="969.94" cy="310.46" r="2.7"/><circle cx="877.39" cy="300" r="2.7"/><circle cx="856.46" cy="300.8" r="2.7"/><circle cx="846.8" cy="300" r="2.7"/><circle cx="1064.04" cy="234.19" r="2.7"/><circle cx="1060.8" cy="237.24" r="2.7"/><circle cx="1057.56" cy="240.1" r="2.7"/><circle cx="1051.84" cy="252.68" r="2.7"/><circle cx="1040.79" cy="233.43" r="2.7"/><circle cx="1033.16" cy="239.15" r="2.7"/><circle cx="1031.64" cy="230.95" r="2.7"/><circle cx="1026.3" cy="255.35" r="2.7"/><circle cx="1020.77" cy="257.64" r="2.7"/><circle cx="1019.82" cy="261.45" r="2.7"/><circle cx="1021.53" cy="250.01" r="2.7"/><circle cx="1024.01" cy="244.87" r="2.7"/><circle cx="1011.62" cy="257.26" r="2.7"/><circle cx="1004.38" cy="258.59" r="2.7"/><circle cx="1007.81" cy="263.36" r="2.7"/><circle cx="1010.29" cy="268.7" r="2.7"/><circle cx="1020.77" cy="274.03" r="2.7"/><circle cx="998.85" cy="278.42" r="2.7"/><circle cx="989.32" cy="278.61" r="2.7"/><circle cx="988.37" cy="281.85" r="2.7"/><circle cx="986.84" cy="267.55" r="2.7"/><circle cx="973.5" cy="276.7" r="2.7"/><circle cx="974.45" cy="280.13" r="2.7"/><circle cx="962.25" cy="275.18" r="2.7"/><circle cx="964.92" cy="285.66" r="2.7"/><circle cx="978.07" cy="286.61" r="2.7"/><circle cx="963.59" cy="291.95" r="2.7"/><circle cx="956.34" cy="292.52" r="2.7"/><circle cx="954.82" cy="294.43" r="2.7"/><circle cx="976.36" cy="297.1" r="2.7"/><circle cx="982.46" cy="299.96" r="2.7"/><circle cx="947.19" cy="295.76" r="2.7"/><circle cx="943.95" cy="291.95" r="2.7"/><circle cx="994.47" cy="258.02" r="2.7"/><circle cx="990.65" cy="258.59" r="2.7"/><circle cx="984.94" cy="260.5" r="2.7"/><circle cx="972.55" cy="265.26" r="2.7"/><circle cx="966.83" cy="270.03" r="2.7"/><circle cx="968.73" cy="266.22" r="2.7"/><circle cx="977.31" cy="263.36" r="2.7"/><circle cx="976.36" cy="268.12" r="2.7"/><circle cx="956.34" cy="271.94" r="2.7"/><circle cx="959.2" cy="267.17" r="2.7"/><circle cx="950.62" cy="277.65" r="2.7"/><circle cx="946.81" cy="280.51" r="2.7"/><circle cx="951.58" cy="263.36" r="2.7"/><circle cx="947.77" cy="285.28" r="2.7"/><circle cx="1000.18" cy="250.97" r="2.7"/><circle cx="997.33" cy="248.11" r="2.7"/><circle cx="992.56" cy="249.06" r="2.7"/><circle cx="1004.95" cy="249.06" r="2.7"/><circle cx="1009.72" cy="248.11" r="2.7"/><circle cx="1015.43" cy="244.3" r="2.7"/><circle cx="1018.29" cy="237.62" r="2.7"/><circle cx="1024.96" cy="232.86" r="2.7"/><circle cx="1015.43" cy="238.58" r="2.7"/><circle cx="1010.67" cy="241.44" r="2.7"/><circle cx="1004.95" cy="243.34" r="2.7"/><circle cx="998.28" cy="243.34" r="2.7"/><circle cx="1003.04" cy="236.67" r="2.7"/><circle cx="1007.81" cy="232.86" r="2.7"/><circle cx="821.2" cy="297.1" r="2.7"/><circle cx="824.44" cy="287.18" r="2.7"/><circle cx="832.06" cy="294.81" r="2.7"/><circle cx="835.87" cy="290.62" r="2.7"/><circle cx="840.64" cy="292.52" r="2.7"/><circle cx="834.35" cy="256.69" r="2.7"/><circle cx="840.64" cy="257.64" r="2.7"/><circle cx="838.73" cy="265.26" r="2.7"/><circle cx="831.49" cy="268.7" r="2.7"/><circle cx="833.4" cy="274.79" r="2.7"/><circle cx="837.78" cy="272.32" r="2.7"/><circle cx="842.55" cy="266.22" r="2.7"/><circle cx="839.11" cy="231.91" r="2.7"/><circle cx="848.26" cy="232.29" r="2.7"/><circle cx="851.12" cy="245.82" r="2.7"/><circle cx="846.36" cy="250.4" r="2.7"/><circle cx="848.65" cy="254.78" r="2.7"/><circle cx="854.94" cy="250.4" r="2.7"/><circle cx="847.31" cy="260.5" r="2.7"/><circle cx="828.25" cy="284.33" r="2.7"/><circle cx="841.59" cy="278.61" r="2.7"/><circle cx="835.87" cy="282.42" r="2.7"/></g>
<path d="M813.2 113.3V374.9M812.4 374.1H1073.3" stroke="#262626" stroke-width="1.6" fill="none"/>
<path d="M813.2 374.1v8.7M870.84 374.1v8.7M928.48 374.1v8.7M986.12 374.1v8.7M1043.76 374.1v8.7M813.2 374.1h-8.7M813.2 316.38h-8.7M813.2 258.66h-8.7M813.2 200.94h-8.7M813.2 143.22h-8.7" stroke="#262626" stroke-width="1.6" fill="none"/>
<text x="812.8" y="400.3" text-anchor="middle" font-size="13.5" fill="#262626" stroke="#262626" stroke-width="0.2">0</text>
<text x="870.44" y="400.3" text-anchor="middle" font-size="13.5" fill="#262626" stroke="#262626" stroke-width="0.2">0.2</text>
<text x="928.08" y="400.3" text-anchor="middle" font-size="13.5" fill="#262626" stroke="#262626" stroke-width="0.2">0.4</text>
<text x="985.72" y="400.3" text-anchor="middle" font-size="13.5" fill="#262626" stroke="#262626" stroke-width="0.2">0.6</text>
<text x="1043.36" y="400.3" text-anchor="middle" font-size="13.5" fill="#262626" stroke="#262626" stroke-width="0.2">0.8</text>
<text x="799.4" y="379.4" text-anchor="end" font-size="13.5" fill="#262626" stroke="#262626" stroke-width="0.2">0</text>
<text x="799.4" y="321.68" text-anchor="end" font-size="13.5" fill="#262626" stroke="#262626" stroke-width="0.2">0.2</text>
<text x="799.4" y="263.96" text-anchor="end" font-size="13.5" fill="#262626" stroke="#262626" stroke-width="0.2">0.4</text>
<text x="799.4" y="206.24" text-anchor="end" font-size="13.5" fill="#262626" stroke="#262626" stroke-width="0.2">0.6</text>
<text x="799.4" y="148.52" text-anchor="end" font-size="13.5" fill="#262626" stroke="#262626" stroke-width="0.2">0.8</text>
<line x1="1119" y1="192.4" x2="1222.3" y2="162.4" stroke="#7f7f7f" stroke-width="3.0"/>
<g fill="#fbb02d" fill-opacity="0.8"><circle cx="1130.13" cy="185.48" r="1.9"/><circle cx="1142.06" cy="188.52" r="1.9"/><circle cx="1179.22" cy="157.12" r="1.9"/><circle cx="1147.47" cy="183.31" r="1.9"/><circle cx="1134.58" cy="192.73" r="1.9"/><circle cx="1184.37" cy="155.88" r="1.9"/><circle cx="1175.64" cy="184.83" r="1.9"/><circle cx="1167.54" cy="156.84" r="1.9"/><circle cx="1189.09" cy="179.83" r="1.9"/><circle cx="1161.31" cy="179.88" r="1.9"/><circle cx="1201.64" cy="182.07" r="1.9"/><circle cx="1158.48" cy="178.54" r="1.9"/><circle cx="1142.19" cy="178.4" r="1.9"/><circle cx="1155" cy="181.46" r="1.9"/><circle cx="1162.66" cy="182.31" r="1.9"/><circle cx="1172.77" cy="173.76" r="1.9"/><circle cx="1151.05" cy="181.16" r="1.9"/><circle cx="1189.82" cy="151.01" r="1.9"/><circle cx="1151.31" cy="181.75" r="1.9"/><circle cx="1185.34" cy="167.09" r="1.9"/><circle cx="1188.9" cy="175.26" r="1.9"/><circle cx="1156.61" cy="183.43" r="1.9"/><circle cx="1172.1" cy="186.81" r="1.9"/><circle cx="1144.36" cy="196.96" r="1.9"/><circle cx="1177.37" cy="192.65" r="1.9"/><circle cx="1163.91" cy="188.06" r="1.9"/><circle cx="1172.46" cy="178.66" r="1.9"/><circle cx="1155.27" cy="169.81" r="1.9"/><circle cx="1133.66" cy="178" r="1.9"/><circle cx="1180.95" cy="182.56" r="1.9"/><circle cx="1169.96" cy="178.92" r="1.9"/><circle cx="1132.78" cy="190" r="1.9"/><circle cx="1129.88" cy="181.82" r="1.9"/><circle cx="1161.6" cy="183.22" r="1.9"/><circle cx="1128.21" cy="195.61" r="1.9"/><circle cx="1127.64" cy="200.38" r="1.9"/><circle cx="1147.17" cy="185.44" r="1.9"/><circle cx="1155.27" cy="175.24" r="1.9"/><circle cx="1172.61" cy="188.03" r="1.9"/><circle cx="1161.57" cy="182.48" r="1.9"/><circle cx="1167.07" cy="178.46" r="1.9"/><circle cx="1135.7" cy="189.06" r="1.9"/><circle cx="1181.86" cy="176.39" r="1.9"/><circle cx="1152.11" cy="192.72" r="1.9"/><circle cx="1157.84" cy="180.75" r="1.9"/><circle cx="1134.44" cy="178.58" r="1.9"/><circle cx="1199.48" cy="154.3" r="1.9"/><circle cx="1155.66" cy="168.21" r="1.9"/><circle cx="1178.52" cy="162.74" r="1.9"/><circle cx="1166.2" cy="170.69" r="1.9"/><circle cx="1176.87" cy="174.42" r="1.9"/><circle cx="1193.37" cy="166.91" r="1.9"/><circle cx="1161.96" cy="198.66" r="1.9"/><circle cx="1200.3" cy="174.97" r="1.9"/><circle cx="1174.48" cy="159.76" r="1.9"/><circle cx="1160.18" cy="180.6" r="1.9"/><circle cx="1158.39" cy="182.57" r="1.9"/><circle cx="1185.11" cy="163.54" r="1.9"/><circle cx="1177.92" cy="190.95" r="1.9"/><circle cx="1191.77" cy="159.34" r="1.9"/><circle cx="1167.46" cy="177.9" r="1.9"/><circle cx="1149.78" cy="167.5" r="1.9"/><circle cx="1173.17" cy="183.38" r="1.9"/><circle cx="1182.26" cy="172.44" r="1.9"/><circle cx="1170.68" cy="179.57" r="1.9"/><circle cx="1165.22" cy="164.96" r="1.9"/><circle cx="1189.53" cy="173.22" r="1.9"/><circle cx="1188.81" cy="176.61" r="1.9"/><circle cx="1175.3" cy="185.96" r="1.9"/><circle cx="1158.74" cy="191.32" r="1.9"/><circle cx="1161.25" cy="166.49" r="1.9"/><circle cx="1138.09" cy="191.19" r="1.9"/><circle cx="1157.1" cy="190.76" r="1.9"/><circle cx="1131.97" cy="202.78" r="1.9"/><circle cx="1160.77" cy="190.9" r="1.9"/><circle cx="1170.6" cy="176.29" r="1.9"/><circle cx="1153.81" cy="179.49" r="1.9"/><circle cx="1164.88" cy="179.5" r="1.9"/><circle cx="1159.9" cy="170.07" r="1.9"/><circle cx="1191.71" cy="159.72" r="1.9"/><circle cx="1154.35" cy="174.59" r="1.9"/><circle cx="1202.57" cy="176.11" r="1.9"/><circle cx="1164.01" cy="182.69" r="1.9"/><circle cx="1150.21" cy="192.09" r="1.9"/><circle cx="1191.58" cy="168.24" r="1.9"/><circle cx="1131.76" cy="185.05" r="1.9"/><circle cx="1185.66" cy="194.34" r="1.9"/><circle cx="1158.21" cy="176.94" r="1.9"/><circle cx="1184.1" cy="179.68" r="1.9"/><circle cx="1180.66" cy="188.98" r="1.9"/><circle cx="1169.95" cy="179.87" r="1.9"/><circle cx="1163.98" cy="188.51" r="1.9"/><circle cx="1146.57" cy="188.89" r="1.9"/><circle cx="1168.37" cy="163.7" r="1.9"/><circle cx="1171.61" cy="178.98" r="1.9"/><circle cx="1170.35" cy="162.24" r="1.9"/><circle cx="1144.15" cy="175.16" r="1.9"/><circle cx="1166.89" cy="185.9" r="1.9"/><circle cx="1158.3" cy="186.66" r="1.9"/><circle cx="1167.64" cy="189.35" r="1.9"/><circle cx="1133.36" cy="176.32" r="1.9"/><circle cx="1165.04" cy="161.54" r="1.9"/><circle cx="1199.67" cy="171.26" r="1.9"/><circle cx="1168.34" cy="176.24" r="1.9"/><circle cx="1134.89" cy="191.02" r="1.9"/><circle cx="1191.99" cy="159.28" r="1.9"/><circle cx="1135.53" cy="181.68" r="1.9"/><circle cx="1133.49" cy="182.28" r="1.9"/><circle cx="1146.97" cy="186.26" r="1.9"/><circle cx="1138.66" cy="189.71" r="1.9"/><circle cx="1128.45" cy="196.26" r="1.9"/><circle cx="1170.4" cy="172.17" r="1.9"/><circle cx="1147.01" cy="199.97" r="1.9"/><circle cx="1161.66" cy="165.44" r="1.9"/><circle cx="1162.23" cy="168.33" r="1.9"/><circle cx="1159.77" cy="176.81" r="1.9"/><circle cx="1179.56" cy="177.57" r="1.9"/><circle cx="1170.41" cy="188.42" r="1.9"/><circle cx="1179.92" cy="167.21" r="1.9"/><circle cx="1167.73" cy="179.47" r="1.9"/><circle cx="1210.06" cy="169.28" r="1.9"/><circle cx="1132.27" cy="197.2" r="1.9"/><circle cx="1148.14" cy="171.81" r="1.9"/><circle cx="1169.05" cy="170.96" r="1.9"/><circle cx="1195.26" cy="169.87" r="1.9"/><circle cx="1184.98" cy="169.1" r="1.9"/><circle cx="1181.36" cy="161.64" r="1.9"/><circle cx="1150.77" cy="189.08" r="1.9"/><circle cx="1164.04" cy="190.81" r="1.9"/><circle cx="1151.28" cy="176.31" r="1.9"/><circle cx="1160.32" cy="175.93" r="1.9"/><circle cx="1159.7" cy="174.26" r="1.9"/><circle cx="1161.02" cy="196.74" r="1.9"/><circle cx="1150.36" cy="176.49" r="1.9"/><circle cx="1163.23" cy="194" r="1.9"/><circle cx="1183.01" cy="159.57" r="1.9"/><circle cx="1134.03" cy="184.98" r="1.9"/><circle cx="1157.26" cy="193.42" r="1.9"/><circle cx="1165.14" cy="169.89" r="1.9"/><circle cx="1170.34" cy="177.46" r="1.9"/><circle cx="1155.55" cy="172.96" r="1.9"/><circle cx="1155.32" cy="191.88" r="1.9"/><circle cx="1140.39" cy="188.14" r="1.9"/><circle cx="1170.71" cy="157.15" r="1.9"/><circle cx="1141.54" cy="184.19" r="1.9"/><circle cx="1168.5" cy="196.22" r="1.9"/><circle cx="1166.92" cy="173.4" r="1.9"/><circle cx="1193.64" cy="167.4" r="1.9"/><circle cx="1126.72" cy="181.93" r="1.9"/><circle cx="1182.33" cy="170.34" r="1.9"/><circle cx="1152.82" cy="189.18" r="1.9"/><circle cx="1161.67" cy="192.79" r="1.9"/><circle cx="1146.44" cy="190.58" r="1.9"/><circle cx="1162.58" cy="181.27" r="1.9"/><circle cx="1129.69" cy="201.45" r="1.9"/><circle cx="1163.32" cy="168.74" r="1.9"/><circle cx="1142.55" cy="191.06" r="1.9"/><circle cx="1180.29" cy="181.23" r="1.9"/><circle cx="1159.73" cy="180.21" r="1.9"/><circle cx="1164.86" cy="175.05" r="1.9"/><circle cx="1190.21" cy="175.36" r="1.9"/><circle cx="1167.61" cy="185.81" r="1.9"/><circle cx="1156.67" cy="194.75" r="1.9"/><circle cx="1134.25" cy="194.89" r="1.9"/><circle cx="1173.98" cy="191.38" r="1.9"/><circle cx="1168.73" cy="184.7" r="1.9"/><circle cx="1164.24" cy="178.85" r="1.9"/><circle cx="1162.14" cy="175.55" r="1.9"/><circle cx="1148.92" cy="187.94" r="1.9"/><circle cx="1145.15" cy="188.06" r="1.9"/><circle cx="1156.78" cy="179.21" r="1.9"/><circle cx="1184.78" cy="157.54" r="1.9"/><circle cx="1132.12" cy="189.72" r="1.9"/><circle cx="1182.22" cy="179.3" r="1.9"/><circle cx="1191.4" cy="160.07" r="1.9"/><circle cx="1189.38" cy="175.67" r="1.9"/><circle cx="1184.36" cy="174.02" r="1.9"/><circle cx="1159.02" cy="182.98" r="1.9"/><circle cx="1187.84" cy="167.54" r="1.9"/><circle cx="1138.25" cy="185.27" r="1.9"/><circle cx="1141.03" cy="178.16" r="1.9"/><circle cx="1160.59" cy="188.86" r="1.9"/><circle cx="1127.19" cy="192.75" r="1.9"/><circle cx="1146.4" cy="189.47" r="1.9"/><circle cx="1179.57" cy="184.76" r="1.9"/><circle cx="1160.08" cy="174.31" r="1.9"/><circle cx="1169.35" cy="165.75" r="1.9"/><circle cx="1158.67" cy="191.09" r="1.9"/><circle cx="1173.38" cy="178.71" r="1.9"/><circle cx="1137.42" cy="188.85" r="1.9"/><circle cx="1162.35" cy="193.26" r="1.9"/><circle cx="1139.82" cy="181.84" r="1.9"/><circle cx="1153.64" cy="188.52" r="1.9"/><circle cx="1166.33" cy="165.25" r="1.9"/><circle cx="1166.45" cy="183.36" r="1.9"/><circle cx="1163.2" cy="195.44" r="1.9"/><circle cx="1192.9" cy="177.04" r="1.9"/><circle cx="1170.34" cy="174.56" r="1.9"/><circle cx="1168.12" cy="181.31" r="1.9"/><circle cx="1166.49" cy="181.87" r="1.9"/><circle cx="1150.39" cy="183.05" r="1.9"/><circle cx="1176.31" cy="180.77" r="1.9"/><circle cx="1163.08" cy="176.35" r="1.9"/><circle cx="1194.26" cy="177.46" r="1.9"/><circle cx="1162.74" cy="192.45" r="1.9"/><circle cx="1171.32" cy="179.59" r="1.9"/><circle cx="1166.04" cy="188.87" r="1.9"/><circle cx="1178.85" cy="170.57" r="1.9"/><circle cx="1200.31" cy="171.87" r="1.9"/><circle cx="1126.14" cy="176.82" r="1.9"/><circle cx="1146.71" cy="181.22" r="1.9"/><circle cx="1174.14" cy="168.72" r="1.9"/><circle cx="1151.99" cy="170.62" r="1.9"/><circle cx="1143.45" cy="181.57" r="1.9"/><circle cx="1130.16" cy="189.69" r="1.9"/><circle cx="1157.31" cy="179.16" r="1.9"/><circle cx="1151.65" cy="193.81" r="1.9"/><circle cx="1164.21" cy="189.32" r="1.9"/><circle cx="1193.09" cy="162.54" r="1.9"/><circle cx="1177" cy="176.3" r="1.9"/><circle cx="1152.12" cy="182.96" r="1.9"/><circle cx="1145.3" cy="195.96" r="1.9"/><circle cx="1151.35" cy="180.02" r="1.9"/><circle cx="1164.45" cy="187.12" r="1.9"/><circle cx="1166.81" cy="187.63" r="1.9"/><circle cx="1145.36" cy="182.74" r="1.9"/><circle cx="1185.34" cy="164.39" r="1.9"/><circle cx="1199.37" cy="159.18" r="1.9"/><circle cx="1129.83" cy="202.62" r="1.9"/><circle cx="1172.61" cy="177.07" r="1.9"/><circle cx="1193.61" cy="170.99" r="1.9"/><circle cx="1172.97" cy="184.86" r="1.9"/><circle cx="1161.96" cy="184.65" r="1.9"/><circle cx="1169.56" cy="168.66" r="1.9"/><circle cx="1157.63" cy="183.8" r="1.9"/><circle cx="1165.74" cy="180.93" r="1.9"/><circle cx="1169.42" cy="163.75" r="1.9"/><circle cx="1163.06" cy="187.68" r="1.9"/><circle cx="1185.74" cy="173.06" r="1.9"/><circle cx="1154.86" cy="177.42" r="1.9"/><circle cx="1148.09" cy="189.26" r="1.9"/><circle cx="1184.14" cy="179.11" r="1.9"/><circle cx="1127.09" cy="189.12" r="1.9"/><circle cx="1178.85" cy="173.59" r="1.9"/><circle cx="1144.97" cy="179.94" r="1.9"/><circle cx="1192.01" cy="151.87" r="1.9"/><circle cx="1162.83" cy="193.69" r="1.9"/><circle cx="1199.99" cy="166.28" r="1.9"/><circle cx="1148.38" cy="188.91" r="1.9"/><circle cx="1151.79" cy="177.54" r="1.9"/><circle cx="1167.97" cy="187.88" r="1.9"/><circle cx="1161.11" cy="169.82" r="1.9"/><circle cx="1133.38" cy="179.53" r="1.9"/><circle cx="1181.39" cy="167.1" r="1.9"/><circle cx="1144.99" cy="192.47" r="1.9"/><circle cx="1160.62" cy="195.76" r="1.9"/><circle cx="1172.77" cy="159.01" r="1.9"/><circle cx="1131.64" cy="191.23" r="1.9"/><circle cx="1168.67" cy="195.37" r="1.9"/><circle cx="1170.25" cy="167.36" r="1.9"/><circle cx="1171.97" cy="157.69" r="1.9"/><circle cx="1169.89" cy="161.28" r="1.9"/><circle cx="1150.86" cy="187.69" r="1.9"/><circle cx="1126.71" cy="200.81" r="1.9"/><circle cx="1180.04" cy="167.83" r="1.9"/><circle cx="1158.75" cy="181.6" r="1.9"/><circle cx="1162.09" cy="186.97" r="1.9"/><circle cx="1128.26" cy="180.83" r="1.9"/><circle cx="1143.64" cy="183.21" r="1.9"/><circle cx="1157.92" cy="167.79" r="1.9"/><circle cx="1150.56" cy="183.62" r="1.9"/><circle cx="1157.83" cy="182" r="1.9"/><circle cx="1126.56" cy="182.84" r="1.9"/><circle cx="1172.57" cy="161.58" r="1.9"/><circle cx="1159.65" cy="173.25" r="1.9"/><circle cx="1136.05" cy="197.1" r="1.9"/><circle cx="1160.48" cy="172.14" r="1.9"/><circle cx="1191.8" cy="165.65" r="1.9"/><circle cx="1145.58" cy="188.29" r="1.9"/><circle cx="1198.33" cy="178.5" r="1.9"/><circle cx="1191.78" cy="155.96" r="1.9"/><circle cx="1181.85" cy="158.81" r="1.9"/><circle cx="1131.77" cy="192.95" r="1.9"/><circle cx="1185.97" cy="151.63" r="1.9"/><circle cx="1165.91" cy="171.19" r="1.9"/><circle cx="1166.33" cy="178.49" r="1.9"/><circle cx="1172.88" cy="155.84" r="1.9"/><circle cx="1163.07" cy="171.21" r="1.9"/><circle cx="1185.78" cy="188.98" r="1.9"/><circle cx="1194.11" cy="166.6" r="1.9"/><circle cx="1149.36" cy="180.43" r="1.9"/><circle cx="1183.03" cy="195.01" r="1.9"/><circle cx="1182.95" cy="177.9" r="1.9"/><circle cx="1144.43" cy="193.18" r="1.9"/><circle cx="1159.09" cy="187.4" r="1.9"/><circle cx="1181.82" cy="192.73" r="1.9"/><circle cx="1141.96" cy="181.85" r="1.9"/><circle cx="1165.63" cy="186.35" r="1.9"/><circle cx="1161.54" cy="190.18" r="1.9"/><circle cx="1210.29" cy="175.42" r="1.9"/><circle cx="1193.69" cy="178.13" r="1.9"/><circle cx="1173.12" cy="163.49" r="1.9"/><circle cx="1132.87" cy="190.5" r="1.9"/><circle cx="1142.38" cy="184.34" r="1.9"/><circle cx="1154.87" cy="199.39" r="1.9"/><circle cx="1172.04" cy="157.1" r="1.9"/><circle cx="1170.52" cy="182.79" r="1.9"/><circle cx="1153.05" cy="182.29" r="1.9"/><circle cx="1183.89" cy="179.03" r="1.9"/><circle cx="1153.9" cy="175.11" r="1.9"/><circle cx="1146.33" cy="188" r="1.9"/><circle cx="1138.79" cy="193.69" r="1.9"/><circle cx="1163.44" cy="183.28" r="1.9"/><circle cx="1164.67" cy="171.16" r="1.9"/><circle cx="1143.45" cy="184.57" r="1.9"/><circle cx="1167.02" cy="200.19" r="1.9"/><circle cx="1158.97" cy="187.68" r="1.9"/><circle cx="1145.73" cy="184.04" r="1.9"/><circle cx="1197.79" cy="172.02" r="1.9"/><circle cx="1174.6" cy="166.97" r="1.9"/><circle cx="1153.02" cy="142.78" r="1.9"/><circle cx="1176.67" cy="146.41" r="1.9"/><circle cx="1208.15" cy="148.51" r="1.9"/><circle cx="1150.73" cy="160.91" r="1.9"/><circle cx="1159.31" cy="158.62" r="1.9"/><circle cx="1161.98" cy="160.14" r="1.9"/><circle cx="1167.9" cy="154.8" r="1.9"/><circle cx="1174" cy="155.37" r="1.9"/><circle cx="1179.92" cy="155.37" r="1.9"/><circle cx="1183.54" cy="157.66" r="1.9"/><circle cx="1192.51" cy="158.04" r="1.9"/><circle cx="1196.13" cy="159.95" r="1.9"/><circle cx="1200.33" cy="158.62" r="1.9"/><circle cx="1204.91" cy="159" r="1.9"/><circle cx="1209.68" cy="160.52" r="1.9"/><circle cx="1213.49" cy="168.73" r="1.9"/><circle cx="1218.07" cy="170.06" r="1.9"/><circle cx="1220.93" cy="165.29" r="1.9"/><circle cx="1207.96" cy="172.93" r="1.9"/><circle cx="1201.67" cy="180.56" r="1.9"/><circle cx="1198.42" cy="180.17" r="1.9"/><circle cx="1193.08" cy="183.99" r="1.9"/><circle cx="1187.36" cy="194.86" r="1.9"/><circle cx="1184.5" cy="193.91" r="1.9"/><circle cx="1179.73" cy="190.1" r="1.9"/><circle cx="1172.67" cy="201.54" r="1.9"/><circle cx="1165.04" cy="203.45" r="1.9"/><circle cx="1171.14" cy="196.77" r="1.9"/><circle cx="1151.49" cy="211.08" r="1.9"/><circle cx="1153.59" cy="199.06" r="1.9"/><circle cx="1147.68" cy="201.54" r="1.9"/><circle cx="1146.91" cy="197.73" r="1.9"/><circle cx="1140.24" cy="204.4" r="1.9"/><circle cx="1139.09" cy="200.21" r="1.9"/><circle cx="1131.08" cy="202.88" r="1.9"/><circle cx="1132.03" cy="197.73" r="1.9"/><circle cx="1122.87" cy="202.88" r="1.9"/><circle cx="1124.78" cy="198.3" r="1.9"/><circle cx="1125.35" cy="193.91" r="1.9"/><circle cx="1129.55" cy="175.79" r="1.9"/><circle cx="1135.85" cy="173.88" r="1.9"/><circle cx="1130.12" cy="178.65" r="1.9"/><circle cx="1143.48" cy="171.02" r="1.9"/><circle cx="1145.39" cy="170.45" r="1.9"/><circle cx="1153.97" cy="170.06" r="1.9"/><circle cx="1160.65" cy="164.34" r="1.9"/></g>
<path d="M1118.7 121.95V227.5M1117.9 226.7H1223.5" stroke="#262626" stroke-width="1.6" fill="none"/>
<path d="M1119 226.7v4.4M1164.84 226.7v4.4M1210.68 226.7v4.4M1118.7 226.7h-4.4M1118.7 180.5h-4.4M1118.7 134.3h-4.4" stroke="#262626" stroke-width="1.6" fill="none"/>
<text x="1118.6" y="248.6" text-anchor="middle" font-size="13.5" fill="#262626" stroke="#262626" stroke-width="0.2">0</text>
<text x="1164.44" y="248.6" text-anchor="middle" font-size="13.5" fill="#262626" stroke="#262626" stroke-width="0.2">0.4</text>
<text x="1210.28" y="248.6" text-anchor="middle" font-size="13.5" fill="#262626" stroke="#262626" stroke-width="0.2">0.8</text>
<text x="1109.7" y="232.4" text-anchor="end" font-size="13.5" fill="#262626" stroke="#262626" stroke-width="0.2">0</text>
<text x="1109.7" y="186.2" text-anchor="end" font-size="13.5" fill="#262626" stroke="#262626" stroke-width="0.2">0.4</text>
<text x="1109.7" y="140" text-anchor="end" font-size="13.5" fill="#262626" stroke="#262626" stroke-width="0.2">0.8</text>
<line x1="1119" y1="341.6" x2="1222.5" y2="310" stroke="#7f7f7f" stroke-width="3.0"/>
<g fill="#e3498a" fill-opacity="0.8"><circle cx="1130.1" cy="340.43" r="1.9"/><circle cx="1130.39" cy="344.29" r="1.9"/><circle cx="1134.25" cy="333.76" r="1.9"/><circle cx="1134.69" cy="335.24" r="1.9"/><circle cx="1136.18" cy="343.84" r="1.9"/><circle cx="1137.22" cy="328.86" r="1.9"/><circle cx="1137.51" cy="336.28" r="1.9"/><circle cx="1139.14" cy="339.69" r="1.9"/><circle cx="1140.18" cy="333.02" r="1.9"/><circle cx="1140.48" cy="341.92" r="1.9"/><circle cx="1141.67" cy="334.5" r="1.9"/><circle cx="1142.85" cy="343.7" r="1.9"/><circle cx="1143.45" cy="333.02" r="1.9"/><circle cx="1144.93" cy="331.98" r="1.9"/><circle cx="1148.79" cy="325.6" r="1.9"/><circle cx="1149.53" cy="350.37" r="1.9"/><circle cx="1153.98" cy="334.05" r="1.9"/><circle cx="1154.57" cy="326.04" r="1.9"/><circle cx="1155.76" cy="330.79" r="1.9"/><circle cx="1156.5" cy="324.41" r="1.9"/><circle cx="1157.24" cy="336.72" r="1.9"/><circle cx="1157.98" cy="327.08" r="1.9"/><circle cx="1159.17" cy="322.63" r="1.9"/><circle cx="1159.47" cy="333.46" r="1.9"/><circle cx="1160.21" cy="326.34" r="1.9"/><circle cx="1160.65" cy="328.27" r="1.9"/><circle cx="1163.17" cy="332.27" r="1.9"/><circle cx="1163.62" cy="334.5" r="1.9"/><circle cx="1164.21" cy="335.98" r="1.9"/><circle cx="1164.95" cy="343.4" r="1.9"/><circle cx="1165.4" cy="318.48" r="1.9"/><circle cx="1165.7" cy="305.57" r="1.9"/><circle cx="1165.7" cy="309.28" r="1.9"/><circle cx="1166.14" cy="323.37" r="1.9"/><circle cx="1166.59" cy="328.86" r="1.9"/><circle cx="1167.18" cy="316.7" r="1.9"/><circle cx="1167.62" cy="333.76" r="1.9"/><circle cx="1168.37" cy="341.17" r="1.9"/><circle cx="1169.11" cy="318.18" r="1.9"/><circle cx="1169.55" cy="307.06" r="1.9"/><circle cx="1170.29" cy="304.09" r="1.9"/><circle cx="1170.89" cy="324.86" r="1.9"/><circle cx="1171.78" cy="338.21" r="1.9"/><circle cx="1172.07" cy="321.15" r="1.9"/><circle cx="1172.52" cy="327.38" r="1.9"/><circle cx="1173.56" cy="331.98" r="1.9"/><circle cx="1175.04" cy="316.7" r="1.9"/><circle cx="1178.01" cy="326.34" r="1.9"/><circle cx="1179.19" cy="317.44" r="1.9"/><circle cx="1179.49" cy="331.98" r="1.9"/><circle cx="1180.53" cy="321.15" r="1.9"/><circle cx="1180.97" cy="327.82" r="1.9"/><circle cx="1182.16" cy="330.35" r="1.9"/><circle cx="1182.46" cy="321.59" r="1.9"/><circle cx="1185.72" cy="322.93" r="1.9"/><circle cx="1186.17" cy="309.73" r="1.9"/><circle cx="1187.35" cy="320.85" r="1.9"/><circle cx="1189.13" cy="327.08" r="1.9"/><circle cx="1190.62" cy="325.15" r="1.9"/><circle cx="1191.8" cy="317.14" r="1.9"/><circle cx="1192.84" cy="319.67" r="1.9"/><circle cx="1195.07" cy="325.3" r="1.9"/><circle cx="1195.81" cy="320.11" r="1.9"/><circle cx="1197.29" cy="315.96" r="1.9"/><circle cx="1198.03" cy="319.67" r="1.9"/><circle cx="1201.74" cy="318.18" r="1.9"/><circle cx="1202.93" cy="316.7" r="1.9"/><circle cx="1207.97" cy="308.54" r="1.9"/><circle cx="1211.09" cy="318.63" r="1.9"/></g>
<path d="M1118.9 270.9V375.4M1118.1 374.6H1223.5" stroke="#262626" stroke-width="1.6" fill="none"/>
<path d="M1118.9 374.6v4.4M1164.74 374.6v4.4M1210.58 374.6v4.4M1118.9 374.6h-4.4M1118.9 328.84h-4.4M1118.9 283.08h-4.4" stroke="#262626" stroke-width="1.6" fill="none"/>
<text x="1118.5" y="396.5" text-anchor="middle" font-size="13.5" fill="#262626" stroke="#262626" stroke-width="0.2">0</text>
<text x="1164.34" y="396.5" text-anchor="middle" font-size="13.5" fill="#262626" stroke="#262626" stroke-width="0.2">0.4</text>
<text x="1210.18" y="396.5" text-anchor="middle" font-size="13.5" fill="#262626" stroke="#262626" stroke-width="0.2">0.8</text>
<text x="1109.9" y="380.3" text-anchor="end" font-size="13.5" fill="#262626" stroke="#262626" stroke-width="0.2">0</text>
<text x="1109.9" y="334.54" text-anchor="end" font-size="13.5" fill="#262626" stroke="#262626" stroke-width="0.2">0.4</text>
<text x="1109.9" y="288.78" text-anchor="end" font-size="13.5" fill="#262626" stroke="#262626" stroke-width="0.2">0.8</text>
<line x1="1264.4" y1="341.9" x2="1367.5" y2="309.7" stroke="#7f7f7f" stroke-width="3.0"/>
<g fill="#8358b6" fill-opacity="0.8"><circle cx="1278.02" cy="339.25" r="1.9"/><circle cx="1282.47" cy="334.5" r="1.9"/><circle cx="1289.59" cy="345.48" r="1.9"/><circle cx="1290.19" cy="330.49" r="1.9"/><circle cx="1293.3" cy="337.61" r="1.9"/><circle cx="1296.86" cy="331.53" r="1.9"/><circle cx="1297.31" cy="333.02" r="1.9"/><circle cx="1298.79" cy="334.5" r="1.9"/><circle cx="1304.72" cy="324.12" r="1.9"/><circle cx="1306.95" cy="322.93" r="1.9"/><circle cx="1307.25" cy="324.41" r="1.9"/><circle cx="1308.88" cy="337.47" r="1.9"/><circle cx="1311.7" cy="340.58" r="1.9"/><circle cx="1313.62" cy="326.34" r="1.9"/><circle cx="1314.07" cy="305.57" r="1.9"/><circle cx="1314.37" cy="329.75" r="1.9"/><circle cx="1314.37" cy="332.27" r="1.9"/><circle cx="1315.55" cy="319.22" r="1.9"/><circle cx="1316.15" cy="317.44" r="1.9"/><circle cx="1317.04" cy="323.67" r="1.9"/><circle cx="1319.71" cy="317.89" r="1.9"/><circle cx="1326.53" cy="322.93" r="1.9"/><circle cx="1330.68" cy="322.48" r="1.9"/><circle cx="1335.73" cy="318.92" r="1.9"/><circle cx="1335.87" cy="325.9" r="1.9"/><circle cx="1338.1" cy="320.85" r="1.9"/><circle cx="1343.74" cy="320.85" r="1.9"/><circle cx="1344.77" cy="317.74" r="1.9"/></g>
<path d="M1264.4 270.9V375.4M1263.6 374.6H1368.9" stroke="#262626" stroke-width="1.6" fill="none"/>
<path d="M1264.4 374.6v4.4M1310.32 374.6v4.4M1356.24 374.6v4.4M1264.4 374.6h-4.4M1264.4 328.84h-4.4M1264.4 283.08h-4.4" stroke="#262626" stroke-width="1.6" fill="none"/>
<text x="1264" y="396.5" text-anchor="middle" font-size="13.5" fill="#262626" stroke="#262626" stroke-width="0.2">0</text>
<text x="1309.92" y="396.5" text-anchor="middle" font-size="13.5" fill="#262626" stroke="#262626" stroke-width="0.2">0.4</text>
<text x="1355.84" y="396.5" text-anchor="middle" font-size="13.5" fill="#262626" stroke="#262626" stroke-width="0.2">0.8</text>
<text x="1255.4" y="380.3" text-anchor="end" font-size="13.5" fill="#262626" stroke="#262626" stroke-width="0.2">0</text>
<text x="1255.4" y="334.54" text-anchor="end" font-size="13.5" fill="#262626" stroke="#262626" stroke-width="0.2">0.4</text>
<text x="1255.4" y="288.78" text-anchor="end" font-size="13.5" fill="#262626" stroke="#262626" stroke-width="0.2">0.8</text>
<text x="361.3" y="421.8" text-anchor="middle" font-size="17.1" fill="#000" stroke="#000" stroke-width="0.3">Actual pain report</text>
<text transform="translate(35.1 245.8) rotate(-90)" text-anchor="middle" font-size="17.1" fill="#000" stroke="#000" stroke-width="0.3">Predicted pain report</text>
<text x="589.9" y="125.3" text-anchor="middle" font-size="15.5" fill="#000" stroke="#000" stroke-width="0.28">Unit of averaging</text>
<rect x="536.2" y="134" width="97" height="88.6" rx="10" fill="#f2f2f2"/>
<circle cx="555.6" cy="151.2" r="5.6" fill="#5bc2ea"/>
<path d="M575.24 143.85V154.7H573.5V147.29H570.98V145.91Q573.25 145.79 573.91 143.85Z" fill="#000"/>
<text x="582.93" y="154.7" font-size="15.5" fill="#000" stroke="#000" stroke-width="0.28">min</text>
<circle cx="555.6" cy="168.6" r="5.6" fill="#fbb02d"/>
<text x="570" y="172.1" font-size="15.5" fill="#000" stroke="#000" stroke-width="0.28">2 min</text>
<circle cx="555.6" cy="186" r="5.6" fill="#e3498a"/>
<text x="570" y="189.5" font-size="15.5" fill="#000" stroke="#000" stroke-width="0.28">Run</text>
<circle cx="555.6" cy="203.4" r="5.6" fill="#8358b6"/>
<text x="570" y="206.9" font-size="15.5" fill="#000" stroke="#000" stroke-width="0.28">Session</text>
<text x="1096.3" y="421.8" text-anchor="middle" font-size="17.1" fill="#000" stroke="#000" stroke-width="0.3">Actual pain report</text>
<text transform="translate(770.1 245.8) rotate(-90)" text-anchor="middle" font-size="17.1" fill="#000" stroke="#000" stroke-width="0.3">Predicted pain report</text>
<text x="1324.9" y="125.3" text-anchor="middle" font-size="15.5" fill="#000" stroke="#000" stroke-width="0.28">Unit of averaging</text>
<rect x="1271.2" y="134" width="97" height="88.6" rx="10" fill="#f2f2f2"/>
<circle cx="1290.6" cy="151.2" r="5.6" fill="#5bc2ea"/>
<path d="M1310.24 143.85V154.7H1308.5V147.29H1305.98V145.91Q1308.26 145.79 1308.91 143.85Z" fill="#000"/>
<text x="1317.93" y="154.7" font-size="15.5" fill="#000" stroke="#000" stroke-width="0.28">min</text>
<circle cx="1290.6" cy="168.6" r="5.6" fill="#fbb02d"/>
<text x="1305" y="172.1" font-size="15.5" fill="#000" stroke="#000" stroke-width="0.28">2 min</text>
<circle cx="1290.6" cy="186" r="5.6" fill="#e3498a"/>
<text x="1305" y="189.5" font-size="15.5" fill="#000" stroke="#000" stroke-width="0.28">Run</text>
<circle cx="1290.6" cy="203.4" r="5.6" fill="#8358b6"/>
<text x="1305" y="206.9" font-size="15.5" fill="#000" stroke="#000" stroke-width="0.28">Session</text>
</svg>
</body></html>
